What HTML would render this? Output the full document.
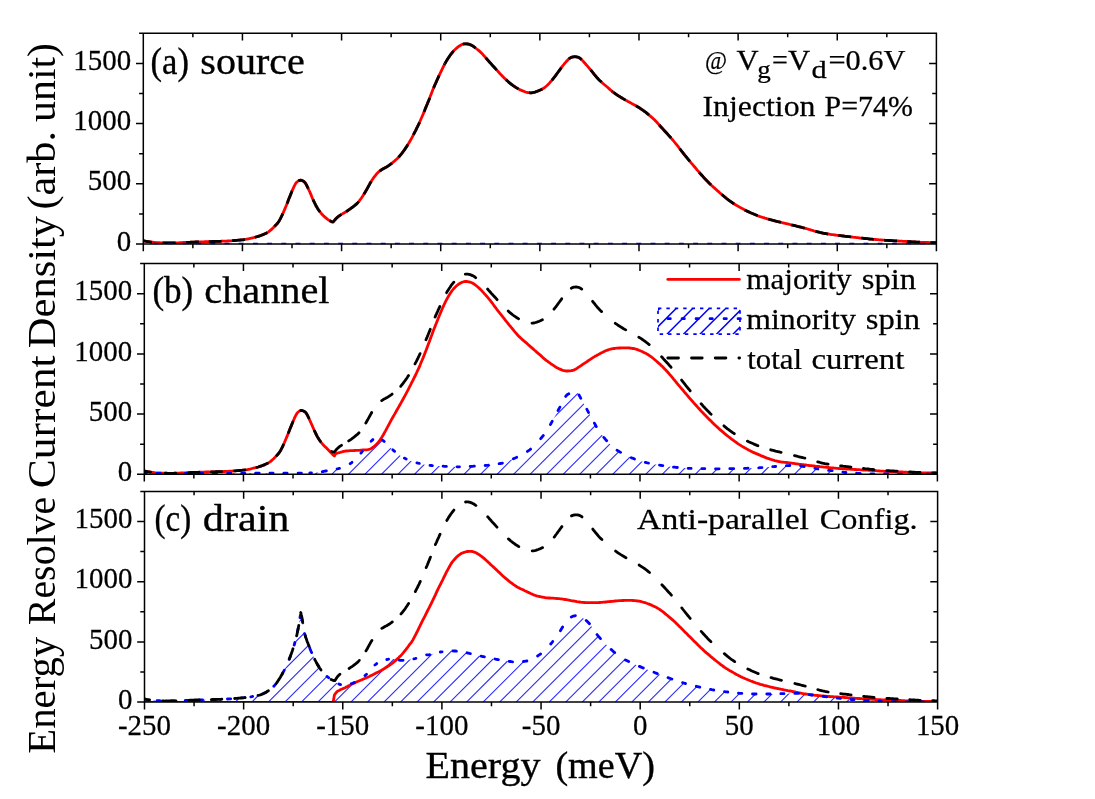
<!DOCTYPE html>
<html><head><meta charset="utf-8"><title>chart</title>
<style>html,body{margin:0;padding:0;background:#fff;}body{width:1095px;height:799px;overflow:hidden;font-family:"Liberation Serif",serif;}svg{display:block;will-change:transform;}</style></head>
<body>
<svg width="1095" height="799" viewBox="0 0 1095 799" font-family="'Liberation Serif', serif" fill="#000">
<rect width="1095" height="799" fill="#fff"/>
<clipPath id="pca"><rect x="143.30" y="33.30" width="793.10" height="210.70"/></clipPath>
<clipPath id="pcb"><rect x="144.30" y="263.60" width="793.00" height="210.70"/></clipPath>
<clipPath id="pcc"><rect x="144.50" y="491.40" width="793.10" height="210.70"/></clipPath>
<g clip-path="url(#pca)">
<path d="M142.8,240.7 L143.9,240.9 L145.1,241.1 L146.3,241.3 L147.5,241.6 L148.7,241.7 L149.9,241.9 L151.1,242.1 L152.3,242.2 L153.5,242.4 L154.7,242.5 L155.9,242.6 L157.1,242.6 L158.3,242.7 L159.5,242.7 L160.7,242.8 L161.9,242.8 L163.1,242.9 L164.3,242.9 L165.5,242.9 L166.7,243.0 L167.8,243.0 L169.0,243.0 L170.2,243.0 L171.4,243.0 L172.6,243.0 L173.8,242.9 L175.0,242.9 L176.2,242.9 L177.4,242.8 L178.6,242.8 L179.8,242.7 L181.0,242.7 L182.2,242.6 L183.4,242.5 L184.6,242.5 L185.8,242.4 L187.0,242.4 L188.2,242.3 L189.4,242.3 L190.6,242.2 L191.8,242.2 L192.9,242.1 L194.1,242.1 L195.3,242.0 L196.5,242.0 L197.7,242.0 L198.9,241.9 L200.1,241.9 L201.3,241.8 L202.5,241.8 L203.7,241.8 L204.9,241.7 L206.1,241.7 L207.3,241.7 L208.5,241.6 L209.7,241.6 L210.9,241.6 L212.1,241.5 L213.3,241.5 L214.5,241.5 L215.7,241.4 L216.8,241.4 L218.0,241.4 L219.2,241.3 L220.4,241.3 L221.6,241.2 L222.8,241.2 L224.0,241.2 L225.2,241.1 L226.4,241.1 L227.6,241.0 L228.8,240.9 L230.0,240.9 L231.2,240.8 L232.4,240.7 L233.6,240.6 L234.8,240.5 L236.0,240.4 L237.2,240.3 L238.4,240.2 L239.6,240.1 L240.7,240.0 L241.9,239.9 L243.1,239.8 L244.3,239.6 L245.5,239.4 L246.7,239.2 L247.9,239.0 L249.1,238.7 L250.3,238.4 L251.5,238.1 L252.7,237.8 L253.9,237.5 L255.1,237.2 L256.3,236.9 L257.5,236.6 L258.7,236.2 L259.9,235.8 L261.1,235.4 L262.3,234.9 L263.5,234.4 L264.6,233.9 L265.8,233.4 L267.0,232.8 L268.2,232.1 L269.4,231.2 L270.6,230.2 L271.8,229.1 L273.0,228.0 L274.2,226.8 L275.4,225.6 L276.6,224.3 L277.8,222.9 L279.0,221.2 L280.2,219.1 L281.4,216.7 L282.6,214.2 L283.8,211.4 L285.0,208.6 L286.2,205.7 L287.4,202.8 L288.5,199.8 L289.7,196.7 L290.9,193.7 L292.1,190.9 L293.3,188.1 L294.5,185.6 L295.7,183.4 L296.9,182.0 L298.1,181.1 L299.3,180.4 L300.5,180.1 L301.7,180.4 L302.9,181.0 L304.1,181.6 L305.3,182.9 L306.5,185.0 L307.7,187.4 L308.9,190.0 L310.1,192.6 L311.3,195.4 L312.4,198.2 L313.6,200.9 L314.8,203.4 L316.0,205.8 L317.2,207.8 L318.4,209.7 L319.6,211.4 L320.8,212.9 L322.0,214.2 L323.2,215.5 L324.4,216.6 L325.6,217.7 L326.8,218.7 L328.0,219.6 L329.2,220.4 L330.4,221.1 L331.6,221.7 L332.8,222.2 L334.0,221.0 L335.2,219.5 L336.4,218.2 L337.6,217.1 L338.8,216.2 L339.9,215.4 L341.1,214.6 L342.3,213.9 L343.5,213.2 L344.7,212.5 L345.9,211.8 L347.1,211.0 L348.3,210.2 L349.5,209.4 L350.7,208.5 L351.8,207.7 L353.0,206.8 L354.2,205.9 L355.4,204.9 L356.6,203.9 L357.8,202.7 L359.0,201.3 L360.2,199.7 L361.4,198.0 L362.6,196.2 L363.7,194.4 L364.9,192.5 L366.1,190.5 L367.3,188.4 L368.5,186.2 L369.7,184.0 L370.9,181.9 L372.1,180.0 L373.3,178.2 L374.5,176.6 L375.7,175.1 L376.8,173.7 L378.0,172.5 L379.2,171.4 L380.4,170.5 L381.6,169.7 L382.8,169.0 L384.0,168.3 L385.2,167.7 L386.4,167.0 L387.6,166.3 L388.7,165.6 L389.9,164.7 L391.1,163.8 L392.3,162.9 L393.5,161.9 L394.7,160.9 L395.9,159.8 L397.1,158.7 L398.3,157.5 L399.5,156.2 L400.6,154.9 L401.8,153.4 L403.0,151.8 L404.2,150.2 L405.4,148.4 L406.6,146.6 L407.8,144.7 L409.0,142.8 L410.2,140.7 L411.4,138.6 L412.6,136.4 L413.7,134.2 L414.9,131.9 L416.1,129.5 L417.3,127.1 L418.5,124.6 L419.7,122.0 L420.9,119.3 L422.1,116.5 L423.3,113.7 L424.5,110.8 L425.6,107.9 L426.8,105.0 L428.0,102.1 L429.2,99.2 L430.4,96.1 L431.6,92.9 L432.8,89.8 L434.0,87.0 L435.2,84.3 L436.4,81.6 L437.5,79.0 L438.7,76.4 L439.9,73.8 L441.1,71.3 L442.3,68.8 L443.5,66.4 L444.7,64.0 L445.9,61.9 L447.1,59.9 L448.3,58.0 L449.5,56.3 L450.6,54.6 L451.8,53.1 L453.0,51.6 L454.2,50.3 L455.4,49.2 L456.6,48.1 L457.8,47.1 L459.0,46.2 L460.2,45.5 L461.4,44.8 L462.5,44.3 L463.7,44.0 L464.9,43.8 L466.1,43.8 L467.3,43.9 L468.5,44.2 L469.7,44.5 L470.9,45.0 L472.1,45.6 L473.3,46.3 L474.4,47.1 L475.6,48.0 L476.8,49.0 L478.0,49.9 L479.2,50.9 L480.4,52.0 L481.6,53.1 L482.8,54.4 L484.0,55.8 L485.2,57.1 L486.4,58.5 L487.5,59.8 L488.7,61.2 L489.9,62.5 L491.1,63.9 L492.3,65.2 L493.5,66.5 L494.7,67.8 L495.9,69.1 L497.1,70.4 L498.3,71.7 L499.4,73.0 L500.6,74.3 L501.8,75.5 L503.0,76.7 L504.2,77.9 L505.4,79.1 L506.6,80.2 L507.8,81.3 L509.0,82.4 L510.2,83.3 L511.4,84.3 L512.5,85.2 L513.7,86.0 L514.9,86.8 L516.1,87.6 L517.3,88.3 L518.5,89.0 L519.7,89.6 L520.9,90.1 L522.1,90.7 L523.3,91.1 L524.4,91.6 L525.6,92.0 L526.8,92.3 L528.0,92.6 L529.2,92.7 L530.4,92.8 L531.6,92.8 L532.8,92.6 L534.0,92.4 L535.2,92.0 L536.3,91.6 L537.5,91.2 L538.7,90.7 L539.9,90.2 L541.1,89.7 L542.3,89.0 L543.5,88.3 L544.7,87.5 L545.9,86.5 L547.1,85.5 L548.3,84.3 L549.4,83.1 L550.6,81.7 L551.8,80.4 L553.0,78.9 L554.2,77.4 L555.4,75.8 L556.6,74.2 L557.8,72.5 L559.0,70.9 L560.2,69.3 L561.3,67.7 L562.5,66.1 L563.7,64.7 L564.9,63.2 L566.1,61.8 L567.3,60.5 L568.5,59.2 L569.7,58.2 L570.9,57.5 L572.1,57.1 L573.2,56.8 L574.4,56.7 L575.6,56.7 L576.8,56.9 L578.0,57.2 L579.2,57.7 L580.4,58.5 L581.6,59.6 L582.8,60.9 L584.0,62.2 L585.2,63.5 L586.3,64.8 L587.5,66.2 L588.7,67.6 L589.9,69.0 L591.1,70.4 L592.3,71.9 L593.5,73.4 L594.7,74.9 L595.9,76.3 L597.1,77.7 L598.2,79.0 L599.4,80.2 L600.6,81.3 L601.8,82.4 L603.0,83.5 L604.2,84.5 L605.4,85.5 L606.6,86.5 L607.8,87.5 L609.0,88.6 L610.1,89.6 L611.3,90.6 L612.5,91.6 L613.7,92.5 L614.9,93.4 L616.1,94.3 L617.3,95.1 L618.5,95.9 L619.7,96.6 L620.9,97.3 L622.1,98.0 L623.2,98.7 L624.4,99.4 L625.6,100.1 L626.8,100.8 L628.0,101.5 L629.2,102.1 L630.4,102.7 L631.6,103.4 L632.8,104.0 L634.0,104.7 L635.1,105.3 L636.3,106.0 L637.5,106.7 L638.7,107.4 L639.9,108.2 L641.1,109.0 L642.3,109.8 L643.5,110.7 L644.7,111.5 L645.9,112.4 L647.0,113.4 L648.2,114.3 L649.4,115.3 L650.6,116.3 L651.8,117.4 L653.0,118.4 L654.2,119.6 L655.4,120.8 L656.6,122.0 L657.8,123.3 L659.0,124.7 L660.1,126.0 L661.3,127.3 L662.5,128.6 L663.7,129.9 L664.9,131.2 L666.1,132.5 L667.3,133.8 L668.5,135.2 L669.7,136.5 L670.9,137.8 L672.0,139.1 L673.2,140.5 L674.4,142.0 L675.6,143.5 L676.8,144.9 L678.0,146.4 L679.2,148.0 L680.4,149.5 L681.6,151.1 L682.8,152.6 L683.9,154.1 L685.1,155.6 L686.3,157.0 L687.5,158.5 L688.7,159.9 L689.9,161.3 L691.1,162.8 L692.3,164.2 L693.5,165.6 L694.7,167.0 L695.9,168.4 L697.0,169.8 L698.2,171.2 L699.4,172.6 L700.6,174.0 L701.8,175.3 L703.0,176.6 L704.2,177.9 L705.4,179.2 L706.6,180.5 L707.8,181.7 L708.9,182.9 L710.1,184.0 L711.3,185.2 L712.5,186.3 L713.7,187.4 L714.9,188.4 L716.1,189.5 L717.3,190.6 L718.5,191.6 L719.7,192.7 L720.8,193.7 L722.0,194.7 L723.2,195.7 L724.4,196.7 L725.6,197.7 L726.8,198.7 L728.0,199.6 L729.2,200.5 L730.4,201.4 L731.6,202.2 L732.8,203.0 L733.9,203.8 L735.1,204.5 L736.3,205.2 L737.5,205.9 L738.7,206.6 L739.9,207.3 L741.1,207.9 L742.3,208.6 L743.5,209.2 L744.7,209.9 L745.8,210.5 L747.0,211.1 L748.2,211.6 L749.4,212.2 L750.6,212.8 L751.8,213.3 L753.0,213.8 L754.2,214.3 L755.4,214.8 L756.6,215.3 L757.7,215.8 L758.9,216.2 L760.1,216.6 L761.3,217.0 L762.5,217.4 L763.7,217.7 L764.9,218.1 L766.1,218.4 L767.3,218.8 L768.5,219.1 L769.7,219.5 L770.8,219.8 L772.0,220.1 L773.2,220.4 L774.4,220.8 L775.6,221.0 L776.8,221.3 L778.0,221.6 L779.2,221.9 L780.4,222.2 L781.6,222.5 L782.7,222.8 L783.9,223.0 L785.1,223.3 L786.3,223.6 L787.5,223.9 L788.7,224.2 L789.9,224.5 L791.1,224.8 L792.3,225.1 L793.5,225.3 L794.7,225.6 L795.8,225.9 L797.0,226.2 L798.2,226.5 L799.4,226.8 L800.6,227.1 L801.8,227.4 L803.0,227.7 L804.2,228.0 L805.4,228.3 L806.6,228.7 L807.7,229.0 L808.9,229.4 L810.1,229.7 L811.3,230.1 L812.5,230.4 L813.7,230.8 L814.9,231.1 L816.1,231.5 L817.3,231.8 L818.5,232.1 L819.6,232.4 L820.8,232.6 L822.0,232.9 L823.2,233.2 L824.4,233.4 L825.6,233.6 L826.8,233.8 L828.0,234.0 L829.2,234.2 L830.4,234.4 L831.6,234.6 L832.7,234.7 L833.9,234.9 L835.1,235.0 L836.3,235.2 L837.5,235.3 L838.7,235.5 L839.9,235.6 L841.1,235.8 L842.3,235.9 L843.5,236.0 L844.6,236.2 L845.8,236.3 L847.0,236.5 L848.2,236.6 L849.4,236.7 L850.6,236.9 L851.8,237.0 L853.0,237.2 L854.2,237.3 L855.4,237.4 L856.5,237.6 L857.7,237.7 L858.9,237.8 L860.1,238.0 L861.3,238.1 L862.5,238.2 L863.7,238.4 L864.9,238.5 L866.1,238.6 L867.3,238.7 L868.5,238.8 L869.6,239.0 L870.8,239.1 L872.0,239.2 L873.2,239.3 L874.4,239.4 L875.6,239.5 L876.8,239.6 L878.0,239.7 L879.2,239.8 L880.4,239.9 L881.5,240.0 L882.7,240.1 L883.9,240.2 L885.1,240.3 L886.3,240.3 L887.5,240.4 L888.7,240.5 L889.9,240.5 L891.1,240.6 L892.3,240.7 L893.4,240.7 L894.6,240.8 L895.8,240.9 L897.0,240.9 L898.2,241.0 L899.4,241.1 L900.6,241.2 L901.8,241.2 L903.0,241.3 L904.2,241.4 L905.4,241.4 L906.5,241.5 L907.7,241.6 L908.9,241.6 L910.1,241.7 L911.3,241.8 L912.5,241.9 L913.7,241.9 L914.9,242.0 L916.1,242.1 L917.3,242.1 L918.4,242.2 L919.6,242.2 L920.8,242.3 L922.0,242.3 L923.2,242.4 L924.4,242.4 L925.6,242.5 L926.8,242.5 L928.0,242.5 L929.2,242.6 L930.3,242.6 L931.5,242.6 L932.7,242.6 L933.9,242.7 L935.1,242.7 L936.3,242.7" fill="none" stroke="#ff0000" stroke-width="2.80" stroke-linejoin="round" />
<path d="M142.8,240.7 L143.9,240.9 L145.1,241.1 L146.3,241.3 L147.5,241.6 L148.7,241.7 L149.9,241.9 L151.1,242.1 L152.0,242.2 M162.5,242.9 L163.7,242.9 L164.9,242.9 L166.1,242.9 L167.3,243.0 L168.4,243.0 L169.6,243.0 L170.8,243.0 L172.0,243.0 L173.2,242.9 L174.4,242.9 L175.6,242.9 M186.1,242.4 L187.3,242.4 L188.5,242.3 L189.7,242.3 L190.9,242.2 L192.0,242.2 L193.2,242.1 L194.4,242.1 L195.6,242.0 L196.8,242.0 L198.0,241.9 L198.9,241.9 M208.8,241.6 L210.0,241.6 L211.2,241.6 L212.4,241.5 L213.6,241.5 L214.8,241.5 L215.9,241.4 L217.1,241.4 L218.3,241.3 L219.5,241.3 L220.7,241.3 L221.6,241.2 M232.1,240.7 L233.3,240.6 L234.5,240.5 L235.7,240.4 L236.9,240.3 L238.1,240.2 L239.3,240.1 L240.4,240.0 L241.6,239.9 L242.8,239.8 L244.0,239.6 L244.9,239.5 M254.8,237.3 L256.0,237.0 L257.2,236.7 L258.4,236.3 L259.6,235.9 L260.8,235.5 L262.0,235.0 L263.2,234.6 L264.3,234.0 L265.5,233.5 L266.7,232.9 L267.3,232.6 M274.5,226.5 L275.6,225.3 L276.6,224.3 L277.6,223.2 L278.4,222.0 L279.1,220.9 L279.7,219.9 L280.3,218.9 L280.8,217.8 L281.4,216.7 L281.9,215.7 L282.3,214.7 L282.8,213.6 M287.0,203.6 L287.5,202.5 L287.9,201.5 L288.2,200.5 L288.6,199.5 L289.0,198.5 L289.4,197.5 L289.9,196.5 L290.3,195.4 L290.7,194.3 L291.2,193.2 L291.6,192.2 L292.0,191.1 L292.1,190.9 M298.4,180.9 L299.6,180.3 L300.8,180.2 L302.0,180.5 L303.2,181.1 L304.3,181.9 L305.3,182.9 L305.9,184.0 L306.5,185.0 L307.0,186.1 L307.5,187.2 L308.0,188.2 L308.3,188.7 M313.0,199.5 L313.5,200.6 L314.0,201.6 L314.5,202.7 L315.0,203.7 L315.5,204.7 L316.0,205.8 L316.6,206.8 L317.2,207.8 L317.9,208.9 L318.6,210.0 L319.4,211.1 L320.1,212.0 M329.5,220.5 L330.7,221.2 L331.9,221.8 L333.1,221.9 L334.2,220.7 L335.2,219.5 L336.1,218.5 L337.3,217.4 L338.5,216.4 L339.6,215.6 L340.8,214.8 L341.4,214.4 M346.2,211.6 L347.4,210.8 L348.6,210.0 L349.8,209.2 L351.0,208.3 L352.1,207.5 L353.3,206.6 L354.5,205.7 L355.7,204.7 L356.9,203.6 L358.0,202.4 L358.7,201.6 M363.9,194.1 L364.6,193.1 L365.3,192.0 L366.0,190.8 L366.6,189.7 L367.2,188.7 L367.8,187.6 L368.4,186.5 L369.0,185.4 L369.6,184.3 L370.1,183.2 L370.7,182.2 L371.2,181.4 M379.5,171.2 L380.7,170.3 L381.9,169.5 L383.1,168.8 L384.3,168.2 L385.5,167.5 L386.7,166.9 L387.9,166.1 L389.0,165.3 L390.2,164.5 L391.4,163.6 L392.0,163.1 M398.5,157.3 L399.5,156.2 L400.4,155.1 L401.4,154.0 L402.2,152.9 L403.0,151.8 L403.8,150.7 L404.6,149.6 L405.4,148.4 L406.1,147.4 L406.8,146.4 L407.5,145.3 L408.0,144.5 M413.3,134.9 L413.9,133.9 L414.4,132.9 L414.9,131.9 L415.5,130.8 L416.0,129.8 L416.5,128.7 L417.0,127.7 L417.6,126.6 L418.0,125.6 L418.5,124.6 L419.0,123.6 L419.5,122.5 L419.6,122.3 M424.0,111.8 L424.5,110.8 L424.9,109.8 L425.3,108.7 L425.8,107.7 L426.2,106.6 L426.6,105.6 L427.1,104.5 L427.5,103.5 L427.9,102.4 L428.4,101.3 L428.8,100.3 L429.2,99.2 L429.6,98.2 L429.7,97.9 M433.5,88.0 L434.0,87.0 L434.5,85.9 L434.9,84.8 L435.4,83.7 L435.9,82.7 L436.4,81.6 L436.8,80.6 L437.3,79.5 L437.8,78.5 L438.3,77.4 L438.7,76.4 L439.2,75.4 M444.3,64.8 L444.7,64.0 M445.0,63.5 L445.6,62.4 L446.2,61.3 L446.9,60.2 L447.6,59.1 L448.3,58.0 L449.1,56.9 L449.8,55.7 L450.6,54.6 L451.4,53.6 L452.3,52.5 L453.3,51.4 L453.7,50.9 M462.8,44.2 L464.0,43.9 L465.2,43.8 L466.4,43.8 L467.6,44.0 L468.8,44.2 L470.0,44.6 L471.2,45.1 L472.4,45.8 L473.6,46.5 L474.7,47.4 L475.6,48.0 M485.6,57.7 L486.6,58.7 L487.5,59.8 L488.5,60.9 L489.4,62.0 L490.4,63.1 L491.4,64.1 L492.3,65.2 L493.3,66.2 L494.2,67.3 L495.2,68.3 L496.1,69.4 L496.8,70.2 M506.0,79.6 L507.2,80.7 L508.4,81.8 L509.6,82.8 L510.8,83.8 L511.9,84.7 L513.1,85.6 L514.3,86.4 L515.5,87.2 L516.7,87.9 L517.9,88.6 L518.5,89.0 M528.9,92.7 L530.1,92.8 L531.3,92.8 L532.5,92.6 L533.7,92.4 L534.9,92.1 L536.0,91.7 L537.2,91.3 L538.4,90.8 L539.6,90.3 L540.8,89.8 L542.0,89.2 L542.3,89.0 M551.8,80.4 L552.8,79.2 L553.6,78.1 L554.4,77.1 L555.2,76.1 L556.0,75.0 L556.8,73.9 L557.6,72.8 L558.4,71.7 L559.2,70.6 L560.0,69.5 L560.7,68.5 L561.3,67.7 M568.8,59.0 L570.0,58.1 L571.2,57.4 L572.4,57.0 L573.5,56.8 L574.7,56.7 L575.9,56.8 L577.1,57.0 L578.3,57.3 L579.5,57.9 L580.7,58.8 L581.6,59.6 M590.6,69.8 L591.6,71.0 L592.5,72.2 L593.5,73.4 L594.4,74.6 L595.4,75.7 L596.3,76.9 L597.3,77.9 L598.2,79.0 L599.4,80.2 L600.6,81.3 L601.5,82.1 M611.9,91.1 L612.5,91.6 M613.1,92.1 L614.3,93.0 L615.5,93.8 L616.7,94.7 L617.9,95.5 L619.1,96.2 L620.3,97.0 L621.5,97.7 L622.6,98.4 L623.8,99.1 L625.0,99.8 L625.6,100.1 M636.0,105.8 L637.2,106.5 L638.4,107.2 L639.6,108.0 L640.8,108.8 L642.0,109.6 L643.2,110.4 L644.4,111.3 L645.6,112.2 L646.8,113.1 L647.9,114.1 L649.1,115.0 M659.2,124.9 L660.1,126.0 L661.1,127.0 L662.0,128.1 L663.0,129.1 L664.0,130.2 L664.9,131.2 L665.9,132.3 L666.8,133.3 L667.8,134.4 L668.7,135.4 L669.7,136.5 L670.6,137.5 L671.1,138.1 M679.6,148.5 L680.4,149.5 L681.2,150.6 L682.0,151.6 L682.8,152.6 L683.6,153.6 L684.4,154.7 L685.4,155.9 L686.3,157.0 L687.3,158.2 L688.2,159.3 L689.2,160.5 L689.9,161.3 M698.7,171.8 M699.2,172.3 L700.1,173.4 L701.1,174.5 L702.0,175.6 L703.0,176.6 L703.9,177.7 L704.9,178.7 L705.9,179.7 L706.9,180.8 L708.1,182.0 L709.2,183.2 L710.4,184.3 L711.0,184.9 M721.7,194.5 L722.9,195.5 L724.1,196.5 L725.3,197.5 L726.5,198.5 L727.7,199.4 L728.9,200.3 L730.1,201.2 L731.3,202.0 L732.5,202.8 L733.6,203.6 L734.2,203.9 M744.7,209.9 L745.8,210.5 L747.0,211.1 L748.2,211.6 L749.4,212.2 L750.6,212.8 L751.8,213.3 L753.0,213.8 L754.2,214.3 L755.4,214.8 L756.6,215.3 L757.7,215.8 M768.2,219.0 L769.4,219.4 L770.5,219.7 L771.7,220.0 L772.9,220.4 L774.1,220.7 L775.3,221.0 L776.5,221.3 L777.7,221.6 L778.9,221.8 L780.1,222.1 L781.0,222.3 M791.4,224.8 L792.6,225.1 L793.8,225.4 L794.9,225.7 L796.1,226.0 L797.3,226.3 L798.5,226.6 L799.7,226.9 L800.9,227.2 L802.1,227.5 L803.3,227.8 L804.5,228.1 L804.8,228.2 M815.5,231.3 L816.7,231.6 L817.9,231.9 L819.1,232.2 L820.2,232.5 L821.4,232.8 L822.6,233.0 L823.8,233.3 L825.0,233.5 L826.2,233.7 L827.4,233.9 L828.0,234.0 M838.4,235.4 L839.6,235.6 L840.8,235.7 L842.0,235.9 L843.2,236.0 L844.3,236.1 L845.5,236.3 L846.7,236.4 L847.9,236.6 L849.1,236.7 L850.3,236.8 L850.9,236.9 M861.3,238.1 L862.5,238.2 L863.7,238.4 L864.9,238.5 L866.1,238.6 L867.3,238.7 L868.5,238.8 L869.6,239.0 L870.8,239.1 L872.0,239.2 L873.2,239.3 L873.8,239.3 M884.2,240.2 L885.4,240.3 L886.6,240.3 L887.8,240.4 L889.0,240.5 L890.2,240.5 L891.4,240.6 L892.6,240.7 L893.7,240.8 L894.9,240.8 L896.1,240.9 L897.0,240.9 M907.1,241.5 L908.3,241.6 L909.5,241.7 L910.7,241.7 L911.9,241.8 L913.1,241.9 L914.3,242.0 L915.5,242.0 L916.7,242.1 L917.8,242.1 L919.0,242.2 L919.9,242.2 M930.3,242.6 L931.5,242.6 L932.7,242.6 L933.9,242.7 L935.1,242.7 L936.3,242.7" fill="none" stroke="#000" stroke-width="2.80" stroke-linejoin="round" stroke-linecap="butt"/>
</g>
<path d="M143.30,33.30 H936.40 V244.00 H143.30 Z M143.30,244.00 v7.30 M143.30,33.30 v7.30 M192.87,244.00 v4.20 M192.87,33.30 v3.90 M242.44,244.00 v7.30 M242.44,33.30 v7.30 M292.01,244.00 v4.20 M292.01,33.30 v3.90 M341.58,244.00 v7.30 M341.58,33.30 v7.30 M391.14,244.00 v4.20 M391.14,33.30 v3.90 M440.71,244.00 v7.30 M440.71,33.30 v7.30 M490.28,244.00 v4.20 M490.28,33.30 v3.90 M539.85,244.00 v7.30 M539.85,33.30 v7.30 M589.42,244.00 v4.20 M589.42,33.30 v3.90 M638.99,244.00 v7.30 M638.99,33.30 v7.30 M688.56,244.00 v4.20 M688.56,33.30 v3.90 M738.12,244.00 v7.30 M738.12,33.30 v7.30 M787.69,244.00 v4.20 M787.69,33.30 v3.90 M837.26,244.00 v7.30 M837.26,33.30 v7.30 M886.83,244.00 v4.20 M886.83,33.30 v3.90 M936.40,244.00 v7.30 M936.40,33.30 v7.30 M143.30,244.00 h-7.30 M936.40,244.00 h-7.30 M143.30,213.90 h-4.20 M936.40,213.90 h-4.20 M143.30,183.80 h-7.30 M936.40,183.80 h-7.30 M143.30,153.70 h-4.20 M936.40,153.70 h-4.20 M143.30,123.60 h-7.30 M936.40,123.60 h-7.30 M143.30,93.50 h-4.20 M936.40,93.50 h-4.20 M143.30,63.40 h-7.30 M936.40,63.40 h-7.30 M143.30,33.30 h-4.20 M936.40,33.30 h-4.20" fill="none" stroke="#000" stroke-width="1.50" stroke-linecap="butt"/>
<text transform="translate(116.81,250.60) scale(0.9500,1)" font-size="30.5" stroke="#000" stroke-width="0.25">0</text>
<text transform="translate(87.84,190.40) scale(0.9500,1)" font-size="30.5" stroke="#000" stroke-width="0.25">500</text>
<text transform="translate(73.35,130.20) scale(0.9500,1)" font-size="30.5" stroke="#000" stroke-width="0.25">1000</text>
<text transform="translate(73.35,70.00) scale(0.9500,1)" font-size="30.5" stroke="#000" stroke-width="0.25">1500</text>
<path d="M144.3,243.5 H935.4" stroke="#000090" stroke-width="1.3" stroke-dasharray="4.9 9.3" stroke-dashoffset="5.0" fill="none"/>
<g clip-path="url(#pcb)">
<clipPath id="cb"><path d="M142.8,474.3 L142.8,473.4 L143.9,473.4 L145.1,473.4 L146.3,473.4 L147.5,473.4 L148.7,473.4 L149.9,473.4 L151.1,473.4 L152.3,473.4 L153.5,473.4 L154.7,473.4 L155.9,473.4 L157.0,473.4 L158.2,473.4 L159.4,473.4 L160.6,473.4 L161.8,473.4 L163.0,473.4 L164.2,473.4 L165.4,473.4 L166.6,473.4 L167.8,473.4 L169.0,473.4 L170.1,473.4 L171.3,473.4 L172.5,473.4 L173.7,473.4 L174.9,473.4 L176.1,473.4 L177.3,473.4 L178.5,473.4 L179.7,473.4 L180.9,473.4 L182.0,473.4 L183.2,473.4 L184.4,473.4 L185.6,473.4 L186.8,473.4 L188.0,473.4 L189.2,473.4 L190.4,473.4 L191.6,473.4 L192.8,473.4 L194.0,473.4 L195.1,473.4 L196.3,473.4 L197.5,473.4 L198.7,473.4 L199.9,473.4 L201.1,473.4 L202.3,473.4 L203.5,473.4 L204.7,473.4 L205.9,473.4 L207.1,473.4 L208.2,473.4 L209.4,473.4 L210.6,473.4 L211.8,473.4 L213.0,473.4 L214.2,473.4 L215.4,473.4 L216.6,473.4 L217.8,473.4 L219.0,473.4 L220.2,473.4 L221.3,473.4 L222.5,473.4 L223.7,473.4 L224.9,473.4 L226.1,473.3 L227.3,473.3 L228.5,473.3 L229.7,473.3 L230.9,473.3 L232.1,473.3 L233.3,473.3 L234.4,473.3 L235.6,473.3 L236.8,473.3 L238.0,473.3 L239.2,473.3 L240.4,473.3 L241.6,473.3 L242.8,473.3 L244.0,473.3 L245.2,473.3 L246.4,473.3 L247.5,473.3 L248.7,473.3 L249.9,473.3 L251.1,473.2 L252.3,473.2 L253.5,473.2 L254.7,473.2 L255.9,473.2 L257.1,473.2 L258.3,473.2 L259.4,473.2 L260.6,473.2 L261.8,473.2 L263.0,473.2 L264.2,473.2 L265.4,473.2 L266.6,473.2 L267.8,473.2 L269.0,473.2 L270.2,473.2 L271.4,473.2 L272.5,473.2 L273.7,473.2 L274.9,473.2 L276.1,473.1 L277.3,473.1 L278.5,473.1 L279.7,473.1 L280.9,473.1 L282.1,473.1 L283.3,473.1 L284.5,473.1 L285.6,473.1 L286.8,473.1 L288.0,473.1 L289.2,473.1 L290.4,473.1 L291.6,473.1 L292.8,473.1 L294.0,473.1 L295.2,473.1 L296.4,473.1 L297.6,473.1 L298.7,473.1 L299.9,473.1 L301.1,473.1 L302.3,473.1 L303.5,473.1 L304.7,473.0 L305.9,473.0 L307.1,473.0 L308.3,472.9 L309.5,472.9 L310.7,472.9 L311.8,472.8 L313.0,472.8 L314.2,472.7 L315.4,472.6 L316.6,472.6 L317.8,472.4 L319.0,472.3 L320.2,472.1 L321.4,471.9 L322.6,471.6 L323.8,471.4 L324.9,471.2 L326.1,471.0 L327.3,470.8 L328.5,470.5 L329.7,470.3 L330.9,470.1 L332.1,469.9 L333.3,469.6 L334.5,469.4 L335.7,469.2 L336.8,469.0 L338.0,468.7 L339.2,468.5 L340.4,468.2 L341.6,467.9 L342.8,467.5 L344.0,467.1 L345.2,466.7 L346.4,466.1 L347.6,465.5 L348.8,464.8 L349.9,464.0 L351.1,463.1 L352.3,462.0 L353.5,460.9 L354.7,459.7 L355.9,458.5 L357.1,457.2 L358.3,455.9 L359.5,454.6 L360.7,453.3 L361.9,452.0 L363.0,450.6 L364.2,449.2 L365.4,447.8 L366.6,446.4 L367.8,444.9 L369.0,443.5 L370.2,442.2 L371.4,440.9 L372.6,439.8 L373.8,439.0 L375.0,438.3 L376.1,438.0 L377.3,437.9 L378.5,438.0 L379.7,438.4 L380.9,439.0 L382.1,439.8 L383.3,440.7 L384.5,441.7 L385.7,442.9 L386.9,444.0 L388.1,445.3 L389.2,446.5 L390.4,447.7 L391.6,448.8 L392.8,449.8 L394.0,450.8 L395.2,451.7 L396.4,452.7 L397.6,453.6 L398.8,454.5 L400.0,455.4 L401.2,456.2 L402.3,456.9 L403.5,457.6 L404.7,458.3 L405.9,458.9 L407.1,459.4 L408.3,459.9 L409.5,460.4 L410.7,460.9 L411.9,461.3 L413.1,461.7 L414.3,462.1 L415.4,462.5 L416.6,462.8 L417.8,463.1 L419.0,463.4 L420.2,463.7 L421.4,463.9 L422.6,464.2 L423.8,464.5 L425.0,464.7 L426.2,464.9 L427.3,465.1 L428.5,465.3 L429.7,465.4 L430.9,465.5 L432.1,465.6 L433.3,465.7 L434.5,465.7 L435.7,465.8 L436.9,465.9 L438.1,466.0 L439.3,466.0 L440.4,466.1 L441.6,466.2 L442.8,466.2 L444.0,466.3 L445.2,466.3 L446.4,466.4 L447.6,466.4 L448.8,466.5 L450.0,466.5 L451.2,466.6 L452.4,466.6 L453.5,466.7 L454.7,466.7 L455.9,466.7 L457.1,466.8 L458.3,466.8 L459.5,466.8 L460.7,466.8 L461.9,466.8 L463.1,466.8 L464.3,466.7 L465.5,466.7 L466.6,466.6 L467.8,466.5 L469.0,466.5 L470.2,466.4 L471.4,466.4 L472.6,466.3 L473.8,466.2 L475.0,466.2 L476.2,466.1 L477.4,466.1 L478.6,466.0 L479.7,465.9 L480.9,465.8 L482.1,465.7 L483.3,465.7 L484.5,465.6 L485.7,465.5 L486.9,465.3 L488.1,465.2 L489.3,465.1 L490.5,465.0 L491.7,464.8 L492.8,464.7 L494.0,464.5 L495.2,464.4 L496.4,464.2 L497.6,464.0 L498.8,463.8 L500.0,463.6 L501.2,463.4 L502.4,463.1 L503.6,462.8 L504.7,462.5 L505.9,462.1 L507.1,461.6 L508.3,461.1 L509.5,460.6 L510.7,460.1 L511.9,459.5 L513.1,458.9 L514.3,458.4 L515.5,457.8 L516.7,457.3 L517.8,456.7 L519.0,456.1 L520.2,455.5 L521.4,454.8 L522.6,454.2 L523.8,453.5 L525.0,452.8 L526.2,452.1 L527.4,451.4 L528.6,450.6 L529.8,449.8 L530.9,448.9 L532.1,447.9 L533.3,446.8 L534.5,445.7 L535.7,444.4 L536.9,443.1 L538.1,441.8 L539.3,440.4 L540.5,439.0 L541.7,437.5 L542.9,436.0 L544.0,434.4 L545.2,432.8 L546.4,431.1 L547.6,429.3 L548.8,427.4 L550.0,425.4 L551.2,423.2 L552.4,421.1 L553.6,418.9 L554.8,416.7 L556.0,414.5 L557.1,412.3 L558.3,410.1 L559.5,407.9 L560.7,405.6 L561.9,403.3 L563.1,401.1 L564.3,398.8 L565.5,396.7 L566.7,395.1 L567.9,394.2 L569.1,393.6 L570.2,393.2 L571.4,392.7 L572.6,392.4 L573.8,392.2 L575.0,392.2 L576.2,392.4 L577.4,392.9 L578.6,394.2 L579.8,396.4 L581.0,398.5 L582.1,400.7 L583.3,402.9 L584.5,405.1 L585.7,407.3 L586.9,409.5 L588.1,411.6 L589.3,413.8 L590.5,416.0 L591.7,418.2 L592.9,420.4 L594.1,422.5 L595.2,424.7 L596.4,426.9 L597.6,428.9 L598.8,430.7 L600.0,432.4 L601.2,434.1 L602.4,435.6 L603.6,437.1 L604.8,438.5 L606.0,439.9 L607.2,441.3 L608.3,442.6 L609.5,443.8 L610.7,445.0 L611.9,446.2 L613.1,447.2 L614.3,448.2 L615.5,449.1 L616.7,450.0 L617.9,450.8 L619.1,451.5 L620.3,452.2 L621.4,452.9 L622.6,453.6 L623.8,454.2 L625.0,454.9 L626.2,455.5 L627.4,456.0 L628.6,456.6 L629.8,457.1 L631.0,457.6 L632.2,458.0 L633.4,458.5 L634.5,459.0 L635.7,459.4 L636.9,459.9 L638.1,460.3 L639.3,460.7 L640.5,461.1 L641.7,461.5 L642.9,461.8 L644.1,462.2 L645.3,462.4 L646.5,462.7 L647.6,463.0 L648.8,463.2 L650.0,463.5 L651.2,463.7 L652.4,463.9 L653.6,464.2 L654.8,464.4 L656.0,464.6 L657.2,464.8 L658.4,465.0 L659.5,465.2 L660.7,465.4 L661.9,465.5 L663.1,465.7 L664.3,465.9 L665.5,466.1 L666.7,466.2 L667.9,466.4 L669.1,466.5 L670.3,466.7 L671.5,466.9 L672.6,467.0 L673.8,467.1 L675.0,467.3 L676.2,467.4 L677.4,467.5 L678.6,467.6 L679.8,467.7 L681.0,467.8 L682.2,467.9 L683.4,468.0 L684.6,468.1 L685.7,468.1 L686.9,468.2 L688.1,468.3 L689.3,468.3 L690.5,468.4 L691.7,468.4 L692.9,468.4 L694.1,468.5 L695.3,468.5 L696.5,468.6 L697.7,468.6 L698.8,468.6 L700.0,468.7 L701.2,468.7 L702.4,468.7 L703.6,468.7 L704.8,468.7 L706.0,468.7 L707.2,468.7 L708.4,468.8 L709.6,468.8 L710.8,468.8 L711.9,468.8 L713.1,468.8 L714.3,468.8 L715.5,468.8 L716.7,468.8 L717.9,468.8 L719.1,468.8 L720.3,468.8 L721.5,468.8 L722.7,468.8 L723.9,468.8 L725.0,468.8 L726.2,468.8 L727.4,468.8 L728.6,468.7 L729.8,468.7 L731.0,468.7 L732.2,468.7 L733.4,468.7 L734.6,468.6 L735.8,468.6 L736.9,468.6 L738.1,468.6 L739.3,468.5 L740.5,468.5 L741.7,468.5 L742.9,468.4 L744.1,468.4 L745.3,468.3 L746.5,468.3 L747.7,468.3 L748.9,468.2 L750.0,468.2 L751.2,468.1 L752.4,468.1 L753.6,468.0 L754.8,468.0 L756.0,467.9 L757.2,467.9 L758.4,467.8 L759.6,467.7 L760.8,467.7 L762.0,467.6 L763.1,467.5 L764.3,467.4 L765.5,467.3 L766.7,467.2 L767.9,467.1 L769.1,467.0 L770.3,466.9 L771.5,466.8 L772.7,466.7 L773.9,466.6 L775.1,466.5 L776.2,466.4 L777.4,466.3 L778.6,466.2 L779.8,466.2 L781.0,466.1 L782.2,466.0 L783.4,465.9 L784.6,465.8 L785.8,465.8 L787.0,465.7 L788.2,465.6 L789.3,465.5 L790.5,465.5 L791.7,465.5 L792.9,465.5 L794.1,465.5 L795.3,465.6 L796.5,465.6 L797.7,465.7 L798.9,465.8 L800.1,465.9 L801.3,466.1 L802.4,466.2 L803.6,466.4 L804.8,466.6 L806.0,466.8 L807.2,467.0 L808.4,467.3 L809.6,467.5 L810.8,467.7 L812.0,467.9 L813.2,468.2 L814.4,468.4 L815.5,468.5 L816.7,468.7 L817.9,468.9 L819.1,469.0 L820.3,469.2 L821.5,469.3 L822.7,469.5 L823.9,469.6 L825.1,469.8 L826.3,470.0 L827.4,470.1 L828.6,470.3 L829.8,470.4 L831.0,470.6 L832.2,470.7 L833.4,470.9 L834.6,471.1 L835.8,471.2 L837.0,471.4 L838.2,471.5 L839.4,471.7 L840.5,471.8 L841.7,472.0 L842.9,472.1 L844.1,472.3 L845.3,472.4 L846.5,472.6 L847.7,472.7 L848.9,472.8 L850.1,472.9 L851.3,472.9 L852.5,473.0 L853.6,473.1 L854.8,473.1 L856.0,473.2 L857.2,473.2 L858.4,473.3 L859.6,473.4 L860.8,473.4 L862.0,473.5 L863.2,473.5 L864.4,473.6 L865.6,473.6 L866.7,473.7 L867.9,473.7 L869.1,473.7 L870.3,473.8 L871.5,473.8 L872.7,473.8 L873.9,473.8 L875.1,473.8 L876.3,473.9 L877.5,473.9 L878.7,473.9 L879.8,473.9 L881.0,473.9 L882.2,473.9 L883.4,474.0 L884.6,474.0 L885.8,474.0 L887.0,474.0 L888.2,474.0 L889.4,474.0 L890.6,474.0 L891.8,474.0 L892.9,474.1 L894.1,474.1 L895.3,474.1 L896.5,474.1 L897.7,474.1 L898.9,474.1 L900.1,474.1 L901.3,474.1 L902.5,474.1 L903.7,474.1 L904.8,474.1 L906.0,474.1 L907.2,474.1 L908.4,474.1 L909.6,474.1 L910.8,474.1 L912.0,474.2 L913.2,474.2 L914.4,474.2 L915.6,474.2 L916.8,474.2 L917.9,474.2 L919.1,474.2 L920.3,474.2 L921.5,474.2 L922.7,474.2 L923.9,474.2 L925.1,474.2 L926.3,474.2 L927.5,474.2 L928.7,474.2 L929.9,474.2 L931.0,474.2 L932.2,474.2 L933.4,474.2 L934.6,474.2 L935.8,474.2 L937.0,474.2 L937.0,474.3 Z"/></clipPath><path clip-path="url(#cb)" d="M-114.24,474.30 l230,-230 M-97.72,474.30 l230,-230 M-81.20,474.30 l230,-230 M-64.68,474.30 l230,-230 M-48.16,474.30 l230,-230 M-31.64,474.30 l230,-230 M-15.12,474.30 l230,-230 M1.40,474.30 l230,-230 M17.92,474.30 l230,-230 M34.44,474.30 l230,-230 M50.96,474.30 l230,-230 M67.48,474.30 l230,-230 M84.00,474.30 l230,-230 M100.52,474.30 l230,-230 M117.04,474.30 l230,-230 M133.56,474.30 l230,-230 M150.08,474.30 l230,-230 M166.60,474.30 l230,-230 M183.12,474.30 l230,-230 M199.64,474.30 l230,-230 M216.16,474.30 l230,-230 M232.68,474.30 l230,-230 M249.20,474.30 l230,-230 M265.72,474.30 l230,-230 M282.24,474.30 l230,-230 M298.76,474.30 l230,-230 M315.28,474.30 l230,-230 M331.80,474.30 l230,-230 M348.32,474.30 l230,-230 M364.84,474.30 l230,-230 M381.36,474.30 l230,-230 M397.88,474.30 l230,-230 M414.40,474.30 l230,-230 M430.92,474.30 l230,-230 M447.44,474.30 l230,-230 M463.96,474.30 l230,-230 M480.48,474.30 l230,-230 M497.00,474.30 l230,-230 M513.52,474.30 l230,-230 M530.04,474.30 l230,-230 M546.56,474.30 l230,-230 M563.08,474.30 l230,-230 M579.60,474.30 l230,-230 M596.12,474.30 l230,-230 M612.64,474.30 l230,-230 M629.16,474.30 l230,-230 M645.68,474.30 l230,-230 M662.20,474.30 l230,-230 M678.72,474.30 l230,-230 M695.24,474.30 l230,-230 M711.76,474.30 l230,-230 M728.28,474.30 l230,-230 M744.80,474.30 l230,-230 M761.32,474.30 l230,-230 M777.84,474.30 l230,-230 M794.36,474.30 l230,-230 M810.88,474.30 l230,-230 M827.40,474.30 l230,-230 M843.92,474.30 l230,-230 M860.44,474.30 l230,-230 M876.96,474.30 l230,-230 M893.48,474.30 l230,-230 M910.00,474.30 l230,-230 M926.52,474.30 l230,-230 M943.04,474.30 l230,-230" stroke="#2a2aff" stroke-width="1.10" fill="none"/>
<path d="M143.8,471.0 L144.9,471.2 L146.1,471.4 L147.3,471.6 L148.5,471.9 L149.7,472.0 L150.9,472.2 L152.1,472.4 L153.3,472.5 L154.5,472.7 L155.7,472.8 L156.9,472.9 L158.0,472.9 L159.2,473.0 L160.4,473.0 L161.6,473.1 L162.8,473.1 L164.0,473.2 L165.2,473.2 L166.4,473.2 L167.6,473.3 L168.8,473.3 L170.0,473.3 L171.2,473.3 L172.3,473.3 L173.5,473.3 L174.7,473.2 L175.9,473.2 L177.1,473.2 L178.3,473.1 L179.5,473.1 L180.7,473.0 L181.9,473.0 L183.1,472.9 L184.3,472.8 L185.4,472.8 L186.6,472.7 L187.8,472.7 L189.0,472.6 L190.2,472.6 L191.4,472.5 L192.6,472.5 L193.8,472.4 L195.0,472.4 L196.2,472.3 L197.4,472.3 L198.6,472.3 L199.7,472.2 L200.9,472.2 L202.1,472.1 L203.3,472.1 L204.5,472.1 L205.7,472.0 L206.9,472.0 L208.1,472.0 L209.3,471.9 L210.5,471.9 L211.7,471.9 L212.8,471.8 L214.0,471.8 L215.2,471.8 L216.4,471.7 L217.6,471.7 L218.8,471.7 L220.0,471.6 L221.2,471.6 L222.4,471.6 L223.6,471.5 L224.8,471.5 L226.0,471.4 L227.1,471.4 L228.3,471.3 L229.5,471.2 L230.7,471.2 L231.9,471.1 L233.1,471.0 L234.3,470.9 L235.5,470.8 L236.7,470.7 L237.9,470.6 L239.1,470.5 L240.2,470.4 L241.4,470.3 L242.6,470.2 L243.8,470.1 L245.0,470.0 L246.2,469.8 L247.4,469.6 L248.6,469.3 L249.8,469.1 L251.0,468.8 L252.2,468.5 L253.4,468.2 L254.5,467.9 L255.7,467.6 L256.9,467.3 L258.1,467.0 L259.3,466.6 L260.5,466.2 L261.7,465.8 L262.9,465.4 L264.1,464.9 L265.3,464.4 L266.5,463.8 L267.6,463.3 L268.8,462.6 L270.0,461.8 L271.2,460.8 L272.4,459.8 L273.6,458.7 L274.8,457.5 L276.0,456.3 L277.2,455.1 L278.4,453.7 L279.6,452.1 L280.8,450.2 L281.9,447.9 L283.1,445.4 L284.3,442.8 L285.5,440.0 L286.7,437.1 L287.9,434.2 L289.1,431.2 L290.3,428.2 L291.5,425.2 L292.7,422.3 L293.9,419.5 L295.0,416.9 L296.2,414.6 L297.4,412.8 L298.6,411.7 L299.8,410.9 L301.0,410.4 L302.2,410.5 L303.4,411.0 L304.6,411.6 L305.8,412.5 L307.0,414.4 L308.2,416.7 L309.3,419.2 L310.5,421.8 L311.7,424.5 L312.9,427.2 L314.1,430.0 L315.3,432.6 L316.5,435.0 L317.7,437.2 L318.9,439.2 L320.1,441.0 L321.3,442.6 L322.4,443.9 L323.6,445.2 L324.8,446.4 L326.0,447.6 L327.2,448.8 L328.4,450.0 L329.6,451.2 L330.8,452.5 L332.0,453.7 L333.2,454.9 L334.4,456.1 L335.5,453.9 L336.7,453.3 L337.9,453.0 L339.1,452.7 L340.3,452.4 L341.5,452.0 L342.7,451.7 L343.9,451.4 L345.1,451.2 L346.3,451.0 L347.5,450.9 L348.6,450.8 L349.8,450.7 L351.0,450.7 L352.2,450.6 L353.4,450.6 L354.6,450.5 L355.8,450.4 L357.0,450.4 L358.2,450.3 L359.4,450.3 L360.5,450.2 L361.7,450.1 L362.9,450.0 L364.1,449.9 L365.3,449.9 L366.5,449.8 L367.7,449.7 L368.9,449.4 L370.1,449.0 L371.3,448.4 L372.4,447.7 L373.6,446.8 L374.8,445.9 L376.0,444.8 L377.2,443.6 L378.4,442.2 L379.6,440.6 L380.8,438.8 L382.0,437.0 L383.2,435.0 L384.3,433.0 L385.5,430.9 L386.7,428.6 L387.9,426.4 L389.1,424.1 L390.3,421.9 L391.5,419.7 L392.7,417.5 L393.9,415.4 L395.1,413.4 L396.2,411.3 L397.4,409.2 L398.6,407.1 L399.8,405.0 L401.0,402.8 L402.2,400.7 L403.4,398.5 L404.6,396.3 L405.8,394.1 L407.0,391.9 L408.2,389.6 L409.3,387.4 L410.5,385.1 L411.7,382.7 L412.9,380.4 L414.1,377.9 L415.3,375.5 L416.5,373.0 L417.7,370.4 L418.9,367.8 L420.1,365.1 L421.2,362.3 L422.4,359.5 L423.6,356.6 L424.8,353.6 L426.0,350.5 L427.2,347.3 L428.4,344.1 L429.6,340.9 L430.8,337.6 L432.0,334.5 L433.1,331.3 L434.3,328.3 L435.5,325.2 L436.7,322.2 L437.9,319.3 L439.1,316.3 L440.3,313.4 L441.5,310.5 L442.7,307.8 L443.9,305.2 L445.0,302.7 L446.2,300.4 L447.4,298.1 L448.6,296.0 L449.8,294.0 L451.0,292.2 L452.2,290.5 L453.4,289.0 L454.6,287.7 L455.8,286.5 L456.9,285.5 L458.1,284.6 L459.3,283.7 L460.5,283.0 L461.7,282.4 L462.9,282.0 L464.1,281.7 L465.3,281.5 L466.5,281.5 L467.7,281.6 L468.9,281.8 L470.0,282.1 L471.2,282.5 L472.4,283.0 L473.6,283.7 L474.8,284.6 L476.0,285.5 L477.2,286.5 L478.4,287.5 L479.6,288.6 L480.8,289.7 L481.9,290.9 L483.1,292.2 L484.3,293.6 L485.5,294.9 L486.7,296.2 L487.9,297.6 L489.1,299.1 L490.3,300.5 L491.5,302.1 L492.7,303.7 L493.8,305.3 L495.0,306.9 L496.2,308.5 L497.4,310.1 L498.6,311.6 L499.8,313.2 L501.0,314.7 L502.2,316.2 L503.4,317.7 L504.6,319.2 L505.7,320.7 L506.9,322.1 L508.1,323.6 L509.3,325.1 L510.5,326.5 L511.7,328.0 L512.9,329.4 L514.1,330.9 L515.3,332.3 L516.5,333.7 L517.6,335.0 L518.8,336.3 L520.0,337.4 L521.2,338.5 L522.4,339.6 L523.6,340.6 L524.8,341.7 L526.0,342.7 L527.2,343.7 L528.4,344.8 L529.6,345.8 L530.7,346.9 L531.9,347.9 L533.1,348.9 L534.3,350.0 L535.5,351.0 L536.7,352.1 L537.9,353.1 L539.1,354.2 L540.3,355.2 L541.5,356.2 L542.6,357.3 L543.8,358.3 L545.0,359.3 L546.2,360.3 L547.4,361.2 L548.6,362.1 L549.8,362.9 L551.0,363.8 L552.2,364.6 L553.4,365.4 L554.5,366.2 L555.7,367.0 L556.9,367.7 L558.1,368.3 L559.3,368.9 L560.5,369.4 L561.7,369.9 L562.9,370.3 L564.1,370.6 L565.3,370.9 L566.4,371.0 L567.6,371.0 L568.8,370.9 L570.0,370.8 L571.2,370.7 L572.4,370.5 L573.6,370.1 L574.8,369.6 L576.0,369.0 L577.2,368.2 L578.3,367.4 L579.5,366.6 L580.7,365.8 L581.9,365.0 L583.1,364.2 L584.3,363.4 L585.5,362.6 L586.7,361.8 L587.9,361.0 L589.1,360.2 L590.3,359.4 L591.4,358.6 L592.6,357.8 L593.8,357.1 L595.0,356.3 L596.2,355.7 L597.4,355.0 L598.6,354.4 L599.8,353.7 L601.0,353.1 L602.2,352.5 L603.3,351.9 L604.5,351.3 L605.7,350.8 L606.9,350.3 L608.1,349.9 L609.3,349.5 L610.5,349.2 L611.7,348.9 L612.9,348.7 L614.1,348.5 L615.2,348.3 L616.4,348.2 L617.6,348.1 L618.8,348.0 L620.0,348.0 L621.2,347.9 L622.4,347.9 L623.6,347.8 L624.8,347.8 L626.0,347.8 L627.1,347.9 L628.3,347.9 L629.5,348.0 L630.7,348.1 L631.9,348.3 L633.1,348.5 L634.3,348.7 L635.5,349.0 L636.7,349.4 L637.9,349.8 L639.0,350.3 L640.2,350.8 L641.4,351.3 L642.6,351.8 L643.8,352.4 L645.0,353.0 L646.2,353.6 L647.4,354.3 L648.6,355.0 L649.8,355.8 L651.0,356.6 L652.1,357.5 L653.3,358.5 L654.5,359.5 L655.7,360.5 L656.9,361.5 L658.1,362.6 L659.3,363.7 L660.5,364.7 L661.7,365.9 L662.9,367.0 L664.0,368.2 L665.2,369.4 L666.4,370.7 L667.6,372.0 L668.8,373.4 L670.0,374.8 L671.2,376.2 L672.4,377.6 L673.6,379.1 L674.8,380.5 L675.9,381.9 L677.1,383.4 L678.3,384.8 L679.5,386.2 L680.7,387.6 L681.9,389.0 L683.1,390.4 L684.3,391.9 L685.5,393.3 L686.7,394.6 L687.8,396.0 L689.0,397.4 L690.2,398.8 L691.4,400.1 L692.6,401.5 L693.8,402.9 L695.0,404.2 L696.2,405.5 L697.4,406.9 L698.6,408.2 L699.8,409.5 L700.9,410.8 L702.1,412.1 L703.3,413.3 L704.5,414.6 L705.7,415.8 L706.9,417.0 L708.1,418.2 L709.3,419.4 L710.5,420.6 L711.7,421.8 L712.8,422.9 L714.0,424.1 L715.2,425.2 L716.4,426.3 L717.6,427.4 L718.8,428.5 L720.0,429.6 L721.2,430.6 L722.4,431.6 L723.6,432.6 L724.7,433.6 L725.9,434.6 L727.1,435.6 L728.3,436.5 L729.5,437.4 L730.7,438.4 L731.9,439.3 L733.1,440.2 L734.3,441.0 L735.5,441.9 L736.6,442.7 L737.8,443.6 L739.0,444.4 L740.2,445.1 L741.4,445.9 L742.6,446.6 L743.8,447.3 L745.0,448.0 L746.2,448.6 L747.4,449.3 L748.5,449.9 L749.7,450.6 L750.9,451.2 L752.1,451.8 L753.3,452.4 L754.5,452.9 L755.7,453.4 L756.9,453.9 L758.1,454.4 L759.3,454.9 L760.5,455.4 L761.6,455.9 L762.8,456.4 L764.0,456.9 L765.2,457.4 L766.4,457.9 L767.6,458.3 L768.8,458.7 L770.0,459.1 L771.2,459.5 L772.4,459.9 L773.5,460.2 L774.7,460.6 L775.9,460.9 L777.1,461.2 L778.3,461.5 L779.5,461.7 L780.7,461.9 L781.9,462.1 L783.1,462.2 L784.3,462.3 L785.4,462.4 L786.6,462.5 L787.8,462.6 L789.0,462.8 L790.2,462.9 L791.4,463.1 L792.6,463.3 L793.8,463.4 L795.0,463.6 L796.2,463.8 L797.3,463.9 L798.5,464.1 L799.7,464.3 L800.9,464.4 L802.1,464.6 L803.3,464.7 L804.5,464.9 L805.7,465.0 L806.9,465.2 L808.1,465.3 L809.2,465.5 L810.4,465.6 L811.6,465.7 L812.8,465.9 L814.0,466.0 L815.2,466.2 L816.4,466.3 L817.6,466.4 L818.8,466.5 L820.0,466.7 L821.2,466.8 L822.3,466.9 L823.5,467.1 L824.7,467.2 L825.9,467.3 L827.1,467.4 L828.3,467.5 L829.5,467.6 L830.7,467.8 L831.9,467.9 L833.1,468.0 L834.2,468.1 L835.4,468.2 L836.6,468.3 L837.8,468.4 L839.0,468.5 L840.2,468.6 L841.4,468.7 L842.6,468.8 L843.8,468.8 L845.0,468.9 L846.1,469.0 L847.3,469.0 L848.5,469.1 L849.7,469.2 L850.9,469.3 L852.1,469.3 L853.3,469.4 L854.5,469.5 L855.7,469.5 L856.9,469.6 L858.0,469.7 L859.2,469.7 L860.4,469.8 L861.6,469.9 L862.8,470.0 L864.0,470.0 L865.2,470.1 L866.4,470.2 L867.6,470.2 L868.8,470.3 L869.9,470.4 L871.1,470.4 L872.3,470.5 L873.5,470.6 L874.7,470.7 L875.9,470.7 L877.1,470.8 L878.3,470.9 L879.5,471.0 L880.7,471.1 L881.9,471.2 L883.0,471.2 L884.2,471.3 L885.4,471.4 L886.6,471.4 L887.8,471.5 L889.0,471.5 L890.2,471.6 L891.4,471.6 L892.6,471.7 L893.8,471.7 L894.9,471.7 L896.1,471.8 L897.3,471.8 L898.5,471.9 L899.7,471.9 L900.9,472.0 L902.1,472.0 L903.3,472.1 L904.5,472.1 L905.7,472.2 L906.8,472.2 L908.0,472.3 L909.2,472.3 L910.4,472.4 L911.6,472.4 L912.8,472.5 L914.0,472.5 L915.2,472.6 L916.4,472.6 L917.6,472.7 L918.7,472.7 L919.9,472.7 L921.1,472.8 L922.3,472.8 L923.5,472.8 L924.7,472.8 L925.9,472.9 L927.1,472.9 L928.3,472.9 L929.5,472.9 L930.6,473.0 L931.8,473.0 L933.0,473.0 L934.2,473.0 L935.4,473.0 L936.6,473.0" fill="none" stroke="#ff0000" stroke-width="2.80" stroke-linejoin="round" />
<path d="M142.8,473.4 L143.9,473.4 L145.1,473.4 L146.3,473.4 M157.0,473.4 L158.2,473.4 L159.4,473.4 L160.3,473.4 M171.0,473.4 L172.2,473.4 L173.4,473.4 L174.3,473.4 M185.3,473.4 L186.5,473.4 L187.7,473.4 L188.6,473.4 M199.3,473.4 L200.5,473.4 L201.7,473.4 L202.6,473.4 M213.3,473.4 L214.5,473.4 L215.7,473.4 L216.6,473.4 M227.6,473.3 L228.8,473.3 L230.0,473.3 L230.9,473.3 M241.6,473.3 L242.8,473.3 L244.0,473.3 L244.9,473.3 M255.6,473.2 L256.8,473.2 L258.0,473.2 L259.2,473.2 M269.9,473.2 L271.1,473.2 L272.3,473.2 L273.1,473.2 M283.9,473.1 L285.1,473.1 L286.2,473.1 L287.1,473.1 M298.1,473.1 L299.3,473.1 L300.5,473.1 L301.4,473.1 M309.8,472.9 L311.0,472.8 L311.5,472.8 M322.3,471.7 L323.5,471.5 L324.6,471.2 L325.8,471.0 L326.4,470.9 M337.1,468.9 L338.3,468.7 L339.5,468.4 M350.2,463.7 L351.4,462.8 L352.0,462.3 M360.9,453.1 L361.9,452.0 L362.3,451.5 M371.1,441.2 L372.3,440.1 L372.9,439.6 M382.4,440.0 L383.6,440.9 L384.2,441.5 M392.8,449.8 L394.0,450.8 L394.6,451.3 M404.4,458.1 L405.6,458.7 L406.2,459.0 M416.9,462.9 L418.1,463.2 L419.3,463.4 M430.0,465.4 L431.2,465.5 L432.4,465.6 M443.1,466.2 L444.3,466.3 L445.5,466.3 L446.4,466.4 M457.1,466.8 L458.3,466.8 L459.5,466.8 M470.2,466.4 L471.4,466.4 L472.6,466.3 L473.8,466.2 L474.4,466.2 M485.1,465.5 L486.3,465.4 L487.5,465.3 L488.4,465.2 M499.1,463.7 L500.3,463.5 L501.5,463.3 L502.4,463.1 M513.4,458.8 L514.6,458.2 L515.8,457.7 L516.7,457.3 M527.4,451.4 L528.6,450.6 L529.8,449.8 L530.6,449.1 M540.7,438.7 L541.7,437.5 L542.6,436.3 L543.3,435.5 M550.4,424.6 L551.0,423.5 L551.6,422.4 L552.2,421.3 M558.0,410.6 L558.6,409.5 L559.2,408.4 L559.8,407.4 L559.9,407.1 M565.7,396.4 L566.5,395.4 L567.6,394.4 L568.8,393.8 M579.0,395.0 L579.6,396.1 L580.2,397.2 L580.8,398.3 M586.8,409.2 L587.4,410.3 L588.0,411.4 L588.5,412.5 M594.4,423.1 L595.0,424.2 L595.5,425.3 L596.1,426.3 L596.3,426.6 M603.8,437.4 L604.8,438.5 L605.7,439.7 L606.7,440.8 M617.0,450.2 L618.2,450.9 L619.4,451.7 L620.6,452.4 M631.3,457.7 L632.5,458.2 L633.7,458.6 L634.5,459.0 M645.3,462.4 L646.5,462.7 L647.6,463.0 L648.5,463.2 M659.5,465.2 L660.7,465.4 L661.9,465.5 L662.8,465.7 M673.5,467.1 L674.7,467.2 L675.9,467.3 L677.1,467.5 L677.4,467.5 M688.1,468.3 L689.3,468.3 L690.5,468.4 L691.1,468.4 M701.8,468.7 L703.0,468.7 L704.2,468.7 L704.8,468.7 M715.5,468.8 L716.7,468.8 L717.9,468.8 L719.1,468.8 M729.8,468.7 L731.0,468.7 L732.2,468.7 L733.4,468.7 L733.7,468.7 M744.4,468.4 L745.6,468.3 L746.8,468.3 L748.0,468.2 M758.7,467.8 L759.9,467.7 L761.1,467.6 L762.0,467.6 M772.7,466.7 L773.9,466.6 L775.1,466.5 L775.7,466.5 M786.4,465.7 L787.6,465.6 L788.7,465.6 L789.9,465.5 M800.7,466.0 L801.8,466.1 L803.0,466.3 L804.2,466.5 M814.9,468.4 L816.1,468.6 L817.3,468.8 L817.9,468.9 M828.6,470.3 L829.8,470.4 L831.0,470.6 L832.2,470.7 M842.9,472.1 L844.1,472.3 L845.3,472.4 L845.9,472.5 M856.6,473.2 L857.8,473.3 L859.0,473.3 L860.2,473.4 M870.9,473.8 L872.1,473.8 L873.3,473.8 L873.9,473.8 M884.6,474.0 L885.8,474.0 L887.0,474.0 L887.9,474.0 M898.6,474.1 L899.8,474.1 L901.0,474.1 L901.9,474.1 M912.9,474.2 L914.1,474.2 L915.3,474.2 L916.2,474.2 M926.9,474.2 L928.1,474.2 L929.3,474.2 L930.2,474.2" fill="none" stroke="#0000ff" stroke-width="2.80" stroke-linejoin="round" stroke-linecap="round"/>
<path d="M143.8,471.0 L144.9,471.2 L146.1,471.4 L147.3,471.6 L148.5,471.9 L149.7,472.0 L150.6,472.2 M163.5,473.2 M165.3,473.2 L166.5,473.2 L167.7,473.3 L168.8,473.3 L170.0,473.3 L171.2,473.3 L172.4,473.3 L173.6,473.3 L174.8,473.2 L175.7,473.2 M188.6,472.7 L189.8,472.6 L191.0,472.5 L192.2,472.5 L193.3,472.4 L194.5,472.4 L195.7,472.4 L196.9,472.3 L198.1,472.3 L199.0,472.2 M211.3,471.9 L212.5,471.8 L213.7,471.8 L214.9,471.8 L216.1,471.7 L217.2,471.7 L218.4,471.7 L219.6,471.6 L220.8,471.6 L221.7,471.6 M234.6,470.9 L235.8,470.8 L237.0,470.7 L238.2,470.6 L239.4,470.5 L240.6,470.4 L241.7,470.3 L242.9,470.2 L244.1,470.1 L245.0,469.9 M257.0,467.3 L258.2,467.0 L259.4,466.6 L260.6,466.2 L261.8,465.8 L263.0,465.3 L264.2,464.9 L265.3,464.3 L266.5,463.8 L267.4,463.4 M276.9,455.4 L277.8,454.3 L278.8,453.2 L279.6,452.0 L280.3,451.0 L280.9,449.9 L281.4,448.9 L282.0,447.8 L282.5,446.8 L283.0,445.8 L283.3,445.0 M288.6,432.6 L289.0,431.6 L289.3,430.6 L289.7,429.6 L290.1,428.5 L290.5,427.5 L291.0,426.5 L291.4,425.4 L291.8,424.3 L292.3,423.3 L292.7,422.2 L292.8,421.9 M300.9,410.5 L302.1,410.5 L303.3,411.0 L304.5,411.6 L305.6,412.4 L306.4,413.5 L307.0,414.5 L307.6,415.6 L308.1,416.7 L308.7,417.7 L308.8,418.0 M314.5,430.9 L315.0,431.9 L315.5,433.0 L316.0,434.0 L316.5,435.0 L317.0,436.1 L317.6,437.1 L318.2,438.1 L318.9,439.2 L319.6,440.3 L320.4,441.4 M331.7,451.5 L332.9,452.1 L334.1,452.2 L335.2,451.0 L336.2,449.8 L337.1,448.8 L338.3,447.7 L339.5,446.7 L340.6,445.9 L341.5,445.3 M348.7,440.9 L349.9,440.1 L351.1,439.3 L352.3,438.4 L353.4,437.6 L354.6,436.7 L355.8,435.7 L357.0,434.7 L358.2,433.6 L359.0,432.7 M365.8,423.1 L366.4,422.0 L367.1,420.8 L367.7,419.8 L368.3,418.7 L368.9,417.6 L369.5,416.5 L370.1,415.4 L370.7,414.3 L371.3,413.3 L371.7,412.5 M381.7,400.6 L382.9,399.8 L384.1,399.1 L385.3,398.5 L386.5,397.8 L387.7,397.2 L388.9,396.4 L390.0,395.6 L391.2,394.8 L392.1,394.1 M400.7,386.3 L401.6,385.2 L402.6,384.0 L403.4,382.9 L404.2,381.8 L405.0,380.7 L405.8,379.6 L406.6,378.5 L407.3,377.4 L407.9,376.4 L408.5,375.6 M415.0,363.9 L415.5,362.9 L416.1,361.9 L416.6,360.9 L417.1,359.8 L417.7,358.8 L418.2,357.7 L418.7,356.7 L419.1,355.7 L419.6,354.7 L420.1,353.6 M426.0,339.8 L426.4,338.8 L426.9,337.7 L427.3,336.7 L427.7,335.6 L428.2,334.6 L428.6,333.5 L429.0,332.4 L429.5,331.4 L429.9,330.3 L430.3,329.3 M435.1,317.0 L435.6,315.9 L436.0,314.8 L436.5,313.8 L437.0,312.7 L437.5,311.7 L438.0,310.6 L438.4,309.6 L438.9,308.5 L439.4,307.5 L439.9,306.4 M446.6,292.7 L447.2,291.6 L447.9,290.5 L448.6,289.4 L449.3,288.3 L450.1,287.2 L450.8,286.0 L451.6,284.9 L452.4,283.9 L453.3,282.8 L453.8,282.2 M465.3,274.2 L466.5,274.1 L467.7,274.1 L468.9,274.3 L470.1,274.6 L471.3,275.1 L472.5,275.6 L473.7,276.2 L474.9,277.0 L475.7,277.7 M487.6,289.0 L488.5,290.1 L489.5,291.2 L490.4,292.3 L491.4,293.4 L492.4,294.4 L493.3,295.5 L494.3,296.5 L495.2,297.6 L496.2,298.6 L497.1,299.7 M508.2,311.0 L509.4,312.1 L510.6,313.1 L511.8,314.1 L512.9,315.0 L514.1,315.9 L515.3,316.7 L516.5,317.5 L517.7,318.2 L518.6,318.8 M532.0,323.1 L533.2,323.0 L534.4,322.8 L535.6,322.5 L536.8,322.1 L537.9,321.7 L539.1,321.3 L540.3,320.8 L541.5,320.2 L542.4,319.8 M554.0,309.2 L554.8,308.2 L555.6,307.2 L556.4,306.1 L557.2,305.0 L558.0,303.9 L558.8,302.8 L559.6,301.7 L560.4,300.6 L561.2,299.6 L561.7,298.8 M571.3,288.2 L572.5,287.6 L573.7,287.2 L574.8,287.1 L576.0,287.0 L577.2,287.1 L578.4,287.3 L579.6,287.8 L580.8,288.4 L581.7,289.1 M592.6,301.3 L593.5,302.5 L594.5,303.7 L595.4,304.9 L596.4,306.0 L597.3,307.2 L598.3,308.2 L599.2,309.3 L600.4,310.5 L601.6,311.6 M615.3,323.3 L616.5,324.1 L617.7,325.0 L618.9,325.8 L620.1,326.5 L621.3,327.3 L622.5,328.0 L623.6,328.7 L624.8,329.4 L625.7,329.9 M638.8,337.2 L640.0,337.9 L641.2,338.7 L642.4,339.5 L643.6,340.3 L644.8,341.2 L646.0,342.1 L647.2,343.0 L648.3,343.9 L649.2,344.6 M661.6,356.8 L662.6,357.8 L663.5,358.9 L664.5,359.9 L665.4,361.0 L666.4,362.0 L667.3,363.1 L668.3,364.1 L669.2,365.2 L670.2,366.2 L671.1,367.3 M681.6,380.1 L682.4,381.1 L683.2,382.2 L684.0,383.2 L684.8,384.2 L685.7,385.3 L686.6,386.5 L687.6,387.6 L688.5,388.8 L689.5,389.9 L690.2,390.8 M701.1,403.7 L702.1,404.8 L703.0,405.9 L704.0,406.9 L704.9,408.0 L705.9,409.0 L706.9,410.0 L707.9,411.1 L709.1,412.3 L710.2,413.5 L711.1,414.3 M723.9,425.8 L725.1,426.8 L726.3,427.8 L727.5,428.8 L728.7,429.7 L729.9,430.6 L731.1,431.5 L732.3,432.3 L733.5,433.1 L734.3,433.7 M747.4,441.1 L748.6,441.7 L749.8,442.2 L751.0,442.8 L752.2,443.3 L753.4,443.8 L754.6,444.4 L755.8,444.9 L757.0,445.4 L757.9,445.7 M770.7,449.8 L771.8,450.1 L773.0,450.4 L774.2,450.7 L775.4,451.1 L776.6,451.3 L777.8,451.6 L779.0,451.9 L780.2,452.2 L781.1,452.4 M794.5,455.6 L795.7,455.9 L796.8,456.2 L798.0,456.5 L799.2,456.8 L800.4,457.1 L801.6,457.4 L802.8,457.7 L804.0,458.0 L804.9,458.2 M817.7,461.9 L818.9,462.2 L820.1,462.5 L821.2,462.8 L822.4,463.1 L823.6,463.3 L824.8,463.6 L826.0,463.8 L827.2,464.0 L828.1,464.2 M840.6,465.9 L841.8,466.0 L843.0,466.2 L844.2,466.3 L845.3,466.4 L846.5,466.6 L847.7,466.7 L848.9,466.9 L850.1,467.0 L851.0,467.1 M863.5,468.5 L864.7,468.7 L865.9,468.8 L867.1,468.9 L868.3,469.0 L869.5,469.1 L870.6,469.3 L871.8,469.4 L873.0,469.5 L873.9,469.6 M886.7,470.6 L887.9,470.7 L889.1,470.7 L890.3,470.8 L891.5,470.9 L892.7,470.9 L893.9,471.0 L895.0,471.1 L896.2,471.1 L897.1,471.2 M909.6,471.9 L910.8,472.0 L912.0,472.1 L913.2,472.1 L914.4,472.2 L915.6,472.3 L916.8,472.3 L918.0,472.4 L919.1,472.5 L920.0,472.5 M932.5,472.9 L933.7,472.9 L934.9,473.0 L936.1,473.0 L937.3,473.0" fill="none" stroke="#000" stroke-width="2.80" stroke-linejoin="round" stroke-linecap="round"/>
</g>
<path d="M144.30,263.60 H937.30 V474.30 H144.30 Z M144.30,474.30 v7.30 M144.30,263.60 v7.30 M193.87,474.30 v4.20 M193.87,263.60 v3.90 M243.44,474.30 v7.30 M243.44,263.60 v7.30 M293.01,474.30 v4.20 M293.01,263.60 v3.90 M342.58,474.30 v7.30 M342.58,263.60 v7.30 M392.14,474.30 v4.20 M392.14,263.60 v3.90 M441.71,474.30 v7.30 M441.71,263.60 v7.30 M491.28,474.30 v4.20 M491.28,263.60 v3.90 M540.85,474.30 v7.30 M540.85,263.60 v7.30 M590.42,474.30 v4.20 M590.42,263.60 v3.90 M639.99,474.30 v7.30 M639.99,263.60 v7.30 M689.56,474.30 v4.20 M689.56,263.60 v3.90 M739.12,474.30 v7.30 M739.12,263.60 v7.30 M788.69,474.30 v4.20 M788.69,263.60 v3.90 M838.26,474.30 v7.30 M838.26,263.60 v7.30 M887.83,474.30 v4.20 M887.83,263.60 v3.90 M937.40,474.30 v7.30 M937.40,263.60 v7.30 M144.30,474.30 h-7.30 M937.30,474.30 h-7.30 M144.30,444.20 h-4.20 M937.30,444.20 h-4.20 M144.30,414.10 h-7.30 M937.30,414.10 h-7.30 M144.30,384.00 h-4.20 M937.30,384.00 h-4.20 M144.30,353.90 h-7.30 M937.30,353.90 h-7.30 M144.30,323.80 h-4.20 M937.30,323.80 h-4.20 M144.30,293.70 h-7.30 M937.30,293.70 h-7.30 M144.30,263.60 h-4.20 M937.30,263.60 h-4.20" fill="none" stroke="#000" stroke-width="1.50" stroke-linecap="butt"/>
<text transform="translate(117.81,480.90) scale(0.9500,1)" font-size="30.5" stroke="#000" stroke-width="0.25">0</text>
<text transform="translate(88.84,420.70) scale(0.9500,1)" font-size="30.5" stroke="#000" stroke-width="0.25">500</text>
<text transform="translate(74.35,360.50) scale(0.9500,1)" font-size="30.5" stroke="#000" stroke-width="0.25">1000</text>
<text transform="translate(74.35,300.30) scale(0.9500,1)" font-size="30.5" stroke="#000" stroke-width="0.25">1500</text>
<g clip-path="url(#pcc)">
<clipPath id="cc"><path d="M142.8,702.1 L142.8,698.7 L144.0,698.9 L145.1,699.1 L146.3,699.3 L147.5,699.6 L148.7,699.7 L149.9,699.9 L151.1,700.1 L152.3,700.2 L153.5,700.4 L154.7,700.5 L155.9,700.6 L157.1,700.6 L158.3,700.7 L159.5,700.7 L160.7,700.8 L161.9,700.8 L163.1,700.9 L164.3,700.9 L165.5,700.9 L166.7,701.0 L167.9,701.0 L169.1,701.0 L170.3,701.0 L171.5,701.0 L172.7,701.0 L173.9,700.9 L175.1,700.9 L176.3,700.8 L177.5,700.8 L178.7,700.8 L179.9,700.7 L181.1,700.6 L182.3,700.6 L183.5,700.5 L184.7,700.5 L185.8,700.4 L187.0,700.4 L188.2,700.3 L189.4,700.3 L190.6,700.2 L191.8,700.2 L193.0,700.1 L194.2,700.1 L195.4,700.0 L196.6,700.0 L197.8,699.9 L199.0,699.9 L200.2,699.9 L201.4,699.8 L202.6,699.8 L203.8,699.8 L205.0,699.7 L206.2,699.7 L207.4,699.7 L208.6,699.6 L209.8,699.6 L211.0,699.6 L212.2,699.5 L213.4,699.5 L214.6,699.5 L215.8,699.4 L217.0,699.4 L218.2,699.4 L219.4,699.3 L220.6,699.3 L221.8,699.2 L223.0,699.2 L224.2,699.2 L225.4,699.1 L226.5,699.0 L227.7,699.0 L228.9,698.9 L230.1,698.8 L231.3,698.7 L232.5,698.6 L233.7,698.6 L234.9,698.5 L236.1,698.4 L237.3,698.3 L238.5,698.2 L239.7,698.1 L240.9,698.0 L242.1,697.9 L243.3,697.8 L244.5,697.6 L245.7,697.5 L246.9,697.4 L248.1,697.2 L249.3,697.0 L250.5,696.8 L251.7,696.6 L252.9,696.4 L254.1,696.2 L255.3,695.9 L256.5,695.7 L257.7,695.4 L258.9,695.1 L260.1,694.9 L261.3,694.5 L262.5,694.0 L263.7,693.5 L264.9,692.9 L266.1,692.2 L267.2,691.5 L268.4,690.8 L269.6,690.0 L270.8,689.0 L272.0,688.0 L273.2,686.9 L274.4,685.7 L275.6,684.3 L276.8,682.7 L278.0,680.9 L279.2,679.1 L280.4,677.1 L281.6,675.1 L282.8,672.9 L284.0,670.6 L285.2,668.2 L286.4,665.7 L287.6,663.1 L288.8,660.3 L290.0,657.3 L291.2,654.0 L292.4,650.6 L293.6,647.0 L294.8,643.0 L296.0,638.5 L297.2,633.6 L298.4,627.6 L299.6,620.5 L300.8,612.2 L302.0,618.0 L303.1,625.2 L304.3,632.6 L305.5,636.7 L306.7,640.1 L307.9,643.2 L309.1,646.3 L310.3,649.4 L311.5,652.3 L312.7,655.1 L313.9,657.6 L315.1,660.0 L316.2,662.3 L317.4,664.4 L318.6,666.4 L319.8,668.2 L321.0,670.0 L322.2,671.6 L323.4,673.1 L324.6,674.4 L325.8,675.5 L327.0,676.4 L328.1,677.3 L329.3,678.1 L330.5,678.9 L331.7,679.7 L332.9,680.5 L334.1,681.2 L335.3,682.0 L336.5,682.7 L337.7,683.4 L338.9,684.0 L340.0,684.5 L341.2,684.8 L342.4,684.9 L343.6,684.9 L344.8,684.8 L346.0,684.7 L347.2,684.5 L348.4,684.3 L349.6,684.0 L350.8,683.7 L352.0,683.4 L353.1,683.0 L354.3,682.5 L355.5,682.0 L356.7,681.4 L357.9,680.7 L359.1,680.0 L360.3,679.2 L361.5,678.4 L362.7,677.5 L363.9,676.6 L365.0,675.6 L366.2,674.5 L367.4,673.3 L368.6,671.9 L369.8,670.5 L371.0,669.0 L372.2,667.6 L373.4,666.3 L374.6,665.2 L375.8,664.3 L376.9,663.4 L378.1,662.7 L379.3,662.0 L380.5,661.4 L381.7,660.9 L382.9,660.4 L384.1,660.1 L385.3,659.8 L386.5,659.5 L387.7,659.3 L388.9,659.2 L390.0,659.1 L391.2,659.0 L392.4,659.0 L393.6,659.1 L394.8,659.2 L396.0,659.5 L397.2,659.7 L398.4,660.0 L399.6,660.2 L400.8,660.3 L401.9,660.3 L403.1,660.3 L404.3,660.2 L405.5,660.1 L406.7,659.9 L407.9,659.8 L409.1,659.6 L410.3,659.4 L411.5,659.2 L412.7,659.0 L413.8,658.8 L415.0,658.6 L416.2,658.4 L417.4,658.0 L418.6,657.6 L419.8,657.1 L421.0,656.7 L422.2,656.2 L423.4,655.7 L424.6,655.3 L425.8,655.0 L426.9,654.7 L428.1,654.9 L429.3,654.7 L430.5,654.5 L431.7,654.2 L432.9,653.9 L434.1,653.5 L435.3,653.2 L436.5,652.8 L437.7,652.5 L438.8,652.2 L440.0,652.0 L441.2,651.9 L442.4,651.8 L443.6,651.6 L444.8,651.5 L446.0,651.4 L447.2,651.3 L448.4,651.1 L449.6,651.0 L450.8,651.0 L451.9,650.9 L453.1,650.9 L454.3,651.0 L455.5,651.1 L456.7,651.2 L457.9,651.3 L459.1,651.5 L460.3,651.6 L461.5,651.8 L462.7,652.0 L463.8,652.2 L465.0,652.4 L466.2,652.7 L467.4,652.9 L468.6,653.2 L469.8,653.4 L471.0,653.7 L472.2,654.0 L473.4,654.3 L474.6,654.6 L475.7,654.9 L476.9,655.2 L478.1,655.5 L479.3,655.8 L480.5,656.1 L481.7,656.3 L482.9,656.6 L484.1,656.8 L485.3,657.1 L486.5,657.3 L487.7,657.6 L488.8,657.8 L490.0,658.1 L491.2,658.3 L492.4,658.5 L493.6,658.7 L494.8,659.0 L496.0,659.2 L497.2,659.4 L498.4,659.7 L499.6,659.9 L500.7,660.1 L501.9,660.3 L503.1,660.4 L504.3,660.6 L505.5,660.8 L506.7,661.0 L507.9,661.2 L509.1,661.3 L510.3,661.5 L511.5,661.7 L512.6,661.8 L513.8,661.8 L515.0,661.9 L516.2,661.9 L517.4,661.9 L518.6,661.9 L519.8,661.8 L521.0,661.7 L522.2,661.6 L523.4,661.5 L524.6,661.4 L525.7,661.2 L526.9,661.0 L528.1,660.6 L529.3,660.2 L530.5,659.8 L531.7,659.3 L532.9,658.7 L534.1,658.1 L535.3,657.4 L536.5,656.7 L537.6,656.0 L538.8,655.2 L540.0,654.4 L541.2,653.5 L542.4,652.5 L543.6,651.5 L544.8,650.4 L546.0,649.2 L547.2,648.0 L548.4,646.7 L549.5,645.4 L550.7,644.0 L551.9,642.5 L553.1,641.0 L554.3,639.4 L555.5,637.9 L556.7,636.2 L557.9,634.6 L559.1,632.9 L560.3,631.0 L561.5,629.0 L562.6,627.0 L563.8,625.0 L565.0,623.2 L566.2,621.6 L567.4,620.2 L568.6,619.0 L569.8,618.0 L571.0,617.2 L572.2,616.5 L573.4,616.1 L574.5,615.8 L575.7,615.7 L576.9,615.7 L578.1,615.9 L579.3,616.3 L580.5,616.8 L581.7,617.4 L582.9,618.1 L584.1,618.9 L585.3,619.7 L586.4,620.7 L587.6,621.7 L588.8,623.0 L590.0,624.3 L591.2,625.9 L592.4,627.6 L593.6,629.5 L594.8,631.3 L596.0,633.1 L597.2,634.8 L598.4,636.2 L599.5,637.6 L600.7,638.9 L601.9,640.2 L603.1,641.5 L604.3,642.7 L605.5,643.9 L606.7,645.1 L607.9,646.3 L609.1,647.4 L610.3,648.6 L611.4,649.7 L612.6,650.8 L613.8,651.9 L615.0,652.9 L616.2,653.8 L617.4,654.8 L618.6,655.6 L619.8,656.5 L621.0,657.3 L622.2,658.1 L623.3,658.8 L624.5,659.5 L625.7,660.1 L626.9,660.7 L628.1,661.2 L629.3,661.8 L630.5,662.4 L631.7,663.0 L632.9,663.5 L634.1,664.1 L635.3,664.6 L636.4,665.1 L637.6,665.6 L638.8,666.1 L640.0,666.6 L641.2,667.1 L642.4,667.6 L643.6,668.1 L644.8,668.6 L646.0,669.1 L647.2,669.6 L648.3,670.0 L649.5,670.5 L650.7,671.0 L651.9,671.5 L653.1,672.0 L654.3,672.4 L655.5,672.9 L656.7,673.4 L657.9,673.8 L659.1,674.3 L660.3,674.7 L661.4,675.2 L662.6,675.6 L663.8,676.1 L665.0,676.5 L666.2,677.0 L667.4,677.4 L668.6,677.9 L669.8,678.3 L671.0,678.8 L672.2,679.2 L673.3,679.6 L674.5,680.0 L675.7,680.4 L676.9,680.8 L678.1,681.2 L679.3,681.6 L680.5,682.0 L681.7,682.4 L682.9,682.7 L684.1,683.1 L685.2,683.5 L686.4,683.8 L687.6,684.1 L688.8,684.4 L690.0,684.8 L691.2,685.1 L692.4,685.4 L693.6,685.7 L694.8,686.0 L696.0,686.2 L697.2,686.5 L698.3,686.8 L699.5,687.1 L700.7,687.4 L701.9,687.6 L703.1,687.9 L704.3,688.2 L705.5,688.4 L706.7,688.7 L707.9,688.9 L709.1,689.2 L710.2,689.4 L711.4,689.6 L712.6,689.8 L713.8,690.0 L715.0,690.2 L716.2,690.4 L717.4,690.6 L718.6,690.8 L719.8,691.0 L721.0,691.1 L722.1,691.3 L723.3,691.4 L724.5,691.6 L725.7,691.8 L726.9,691.9 L728.1,692.0 L729.3,692.2 L730.5,692.3 L731.7,692.5 L732.9,692.6 L734.1,692.7 L735.2,692.9 L736.4,693.0 L737.6,693.1 L738.8,693.2 L740.0,693.3 L741.2,693.4 L742.4,693.5 L743.6,693.6 L744.8,693.6 L746.0,693.7 L747.1,693.8 L748.3,693.8 L749.5,693.9 L750.7,693.9 L751.9,694.0 L753.1,694.0 L754.3,694.0 L755.5,694.0 L756.7,694.0 L757.9,694.0 L759.0,694.0 L760.2,694.1 L761.4,694.1 L762.6,694.1 L763.8,694.1 L765.0,694.0 L766.2,694.0 L767.4,694.0 L768.6,694.0 L769.8,694.0 L771.0,693.9 L772.1,693.9 L773.3,693.9 L774.5,693.9 L775.7,693.8 L776.9,693.8 L778.1,693.8 L779.3,693.8 L780.5,693.7 L781.7,693.7 L782.9,693.7 L784.0,693.7 L785.2,693.6 L786.4,693.6 L787.6,693.6 L788.8,693.6 L790.0,693.5 L791.2,693.5 L792.4,693.5 L793.6,693.5 L794.8,693.4 L795.9,693.4 L797.1,693.4 L798.3,693.4 L799.5,693.5 L800.7,693.5 L801.9,693.7 L803.1,693.8 L804.3,693.9 L805.5,694.1 L806.7,694.3 L807.9,694.4 L809.0,694.6 L810.2,694.8 L811.4,694.9 L812.6,695.1 L813.8,695.2 L815.0,695.4 L816.2,695.5 L817.4,695.7 L818.6,695.8 L819.8,696.0 L820.9,696.1 L822.1,696.3 L823.3,696.4 L824.5,696.6 L825.7,696.7 L826.9,696.9 L828.1,697.0 L829.3,697.1 L830.5,697.3 L831.7,697.4 L832.8,697.5 L834.0,697.7 L835.2,697.8 L836.4,698.0 L837.6,698.1 L838.8,698.2 L840.0,698.4 L841.2,698.5 L842.4,698.6 L843.6,698.8 L844.8,698.9 L845.9,699.0 L847.1,699.1 L848.3,699.2 L849.5,699.4 L850.7,699.5 L851.9,699.6 L853.1,699.7 L854.3,699.8 L855.5,699.8 L856.7,699.9 L857.8,700.0 L859.0,700.1 L860.2,700.1 L861.4,700.2 L862.6,700.3 L863.8,700.4 L865.0,700.4 L866.2,700.5 L867.4,700.6 L868.6,700.6 L869.8,700.7 L870.9,700.8 L872.1,700.8 L873.3,700.9 L874.5,700.9 L875.7,701.0 L876.9,701.1 L878.1,701.1 L879.3,701.2 L880.5,701.2 L881.7,701.3 L882.8,701.3 L884.0,701.4 L885.2,701.4 L886.4,701.5 L887.6,701.5 L888.8,701.5 L890.0,701.6 L891.2,701.6 L892.4,701.6 L893.6,701.7 L894.7,701.7 L895.9,701.7 L897.1,701.7 L898.3,701.8 L899.5,701.8 L900.7,701.8 L901.9,701.8 L903.1,701.9 L904.3,701.9 L905.5,701.9 L906.7,701.9 L907.8,701.9 L909.0,701.9 L910.2,701.9 L911.4,702.0 L912.6,702.0 L913.8,702.0 L915.0,702.0 L916.2,702.0 L917.4,702.0 L918.6,702.0 L919.7,702.0 L920.9,702.0 L922.1,702.0 L923.3,702.0 L924.5,702.0 L925.7,702.0 L926.9,702.0 L928.1,702.0 L929.3,702.0 L930.5,702.0 L931.6,702.0 L932.8,702.0 L934.0,702.0 L935.2,702.0 L936.4,702.0 L937.6,702.0 L937.6,702.1 Z"/></clipPath><path clip-path="url(#cc)" d="M-111.66,702.10 l230,-230 M-95.14,702.10 l230,-230 M-78.62,702.10 l230,-230 M-62.10,702.10 l230,-230 M-45.58,702.10 l230,-230 M-29.06,702.10 l230,-230 M-12.54,702.10 l230,-230 M3.98,702.10 l230,-230 M20.50,702.10 l230,-230 M37.02,702.10 l230,-230 M53.54,702.10 l230,-230 M70.06,702.10 l230,-230 M86.58,702.10 l230,-230 M103.10,702.10 l230,-230 M119.62,702.10 l230,-230 M136.14,702.10 l230,-230 M152.66,702.10 l230,-230 M169.18,702.10 l230,-230 M185.70,702.10 l230,-230 M202.22,702.10 l230,-230 M218.74,702.10 l230,-230 M235.26,702.10 l230,-230 M251.78,702.10 l230,-230 M268.30,702.10 l230,-230 M284.82,702.10 l230,-230 M301.34,702.10 l230,-230 M317.86,702.10 l230,-230 M334.38,702.10 l230,-230 M350.90,702.10 l230,-230 M367.42,702.10 l230,-230 M383.94,702.10 l230,-230 M400.46,702.10 l230,-230 M416.98,702.10 l230,-230 M433.50,702.10 l230,-230 M450.02,702.10 l230,-230 M466.54,702.10 l230,-230 M483.06,702.10 l230,-230 M499.58,702.10 l230,-230 M516.10,702.10 l230,-230 M532.62,702.10 l230,-230 M549.14,702.10 l230,-230 M565.66,702.10 l230,-230 M582.18,702.10 l230,-230 M598.70,702.10 l230,-230 M615.22,702.10 l230,-230 M631.74,702.10 l230,-230 M648.26,702.10 l230,-230 M664.78,702.10 l230,-230 M681.30,702.10 l230,-230 M697.82,702.10 l230,-230 M714.34,702.10 l230,-230 M730.86,702.10 l230,-230 M747.38,702.10 l230,-230 M763.90,702.10 l230,-230 M780.42,702.10 l230,-230 M796.94,702.10 l230,-230 M813.46,702.10 l230,-230 M829.98,702.10 l230,-230 M846.50,702.10 l230,-230 M863.02,702.10 l230,-230 M879.54,702.10 l230,-230 M896.06,702.10 l230,-230 M912.58,702.10 l230,-230 M929.10,702.10 l230,-230 M945.62,702.10 l230,-230" stroke="#2a2aff" stroke-width="1.10" fill="none"/>
<path d="M144.5,702.4 L333.2,702.4 L333.2,702.0 L334.4,695.1 L335.6,693.3 L336.8,691.8 L338.0,690.9 L339.1,690.4 L340.3,689.8 L341.5,689.3 L342.7,688.8 L343.9,688.2 L345.1,687.7 L346.3,687.1 L347.5,686.5 L348.7,685.8 L349.9,685.2 L351.0,684.6 L352.2,684.0 L353.4,683.5 L354.6,682.9 L355.8,682.3 L357.0,681.8 L358.2,681.3 L359.4,680.8 L360.6,680.3 L361.8,679.8 L362.9,679.3 L364.1,678.8 L365.3,678.3 L366.5,677.7 L367.7,677.2 L368.9,676.7 L370.1,676.1 L371.3,675.5 L372.5,674.9 L373.7,674.3 L374.8,673.7 L376.0,673.1 L377.2,672.5 L378.4,671.9 L379.6,671.3 L380.8,670.6 L382.0,669.9 L383.2,669.2 L384.4,668.5 L385.5,667.8 L386.7,667.0 L387.9,666.3 L389.1,665.5 L390.3,664.7 L391.5,663.8 L392.7,662.9 L393.9,661.9 L395.1,660.9 L396.3,659.9 L397.4,658.9 L398.6,657.8 L399.8,656.6 L401.0,655.4 L402.2,654.1 L403.4,652.7 L404.6,651.2 L405.8,649.7 L407.0,648.1 L408.2,646.5 L409.3,644.9 L410.5,643.4 L411.7,641.8 L412.9,639.9 L414.1,637.7 L415.3,635.4 L416.5,633.0 L417.7,630.6 L418.9,628.1 L420.1,625.7 L421.2,623.3 L422.4,620.9 L423.6,618.6 L424.8,616.3 L426.0,613.9 L427.2,611.5 L428.4,609.1 L429.6,606.8 L430.8,604.4 L432.0,602.0 L433.1,599.6 L434.3,597.1 L435.5,594.6 L436.7,591.9 L437.9,589.3 L439.1,586.9 L440.3,584.6 L441.5,582.2 L442.7,579.9 L443.8,577.5 L445.0,575.1 L446.2,572.7 L447.4,570.4 L448.6,568.1 L449.8,566.0 L451.0,563.9 L452.2,562.1 L453.4,560.6 L454.6,559.3 L455.7,558.0 L456.9,556.8 L458.1,555.7 L459.3,554.8 L460.5,554.0 L461.7,553.3 L462.9,552.8 L464.1,552.4 L465.3,552.0 L466.5,551.7 L467.6,551.5 L468.8,551.3 L470.0,551.3 L471.2,551.4 L472.4,551.5 L473.6,551.9 L474.8,552.3 L476.0,552.8 L477.2,553.5 L478.4,554.2 L479.5,554.9 L480.7,555.8 L481.9,556.7 L483.1,557.7 L484.3,558.7 L485.5,559.7 L486.7,560.8 L487.9,561.9 L489.1,563.0 L490.2,564.1 L491.4,565.2 L492.6,566.3 L493.8,567.4 L495.0,568.5 L496.2,569.6 L497.4,570.7 L498.6,571.9 L499.8,573.0 L501.0,574.1 L502.1,575.3 L503.3,576.4 L504.5,577.4 L505.7,578.4 L506.9,579.4 L508.1,580.4 L509.3,581.4 L510.5,582.3 L511.7,583.2 L512.9,584.1 L514.0,584.9 L515.2,585.7 L516.4,586.5 L517.6,587.2 L518.8,587.8 L520.0,588.4 L521.2,589.0 L522.4,589.5 L523.6,590.1 L524.8,590.7 L525.9,591.2 L527.1,591.8 L528.3,592.4 L529.5,592.9 L530.7,593.5 L531.9,594.0 L533.1,594.6 L534.3,595.1 L535.5,595.5 L536.6,595.9 L537.8,596.2 L539.0,596.5 L540.2,596.7 L541.4,597.0 L542.6,597.2 L543.8,597.4 L545.0,597.6 L546.2,597.8 L547.4,597.9 L548.5,598.0 L549.7,598.0 L550.9,598.1 L552.1,598.2 L553.3,598.2 L554.5,598.3 L555.7,598.4 L556.9,598.5 L558.1,598.6 L559.3,598.7 L560.4,598.8 L561.6,598.9 L562.8,599.1 L564.0,599.3 L565.2,599.5 L566.4,599.7 L567.6,599.9 L568.8,600.1 L570.0,600.3 L571.2,600.6 L572.3,600.8 L573.5,601.0 L574.7,601.2 L575.9,601.5 L577.1,601.7 L578.3,601.8 L579.5,602.0 L580.7,602.2 L581.9,602.3 L583.1,602.4 L584.2,602.5 L585.4,602.6 L586.6,602.6 L587.8,602.7 L589.0,602.7 L590.2,602.7 L591.4,602.7 L592.6,602.7 L593.8,602.7 L594.9,602.7 L596.1,602.7 L597.3,602.6 L598.5,602.6 L599.7,602.5 L600.9,602.4 L602.1,602.3 L603.3,602.2 L604.5,602.1 L605.7,602.0 L606.8,601.9 L608.0,601.7 L609.2,601.6 L610.4,601.5 L611.6,601.4 L612.8,601.3 L614.0,601.1 L615.2,601.0 L616.4,600.9 L617.6,600.8 L618.7,600.7 L619.9,600.6 L621.1,600.6 L622.3,600.5 L623.5,600.5 L624.7,600.4 L625.9,600.4 L627.1,600.4 L628.3,600.4 L629.5,600.4 L630.6,600.4 L631.8,600.4 L633.0,600.5 L634.2,600.6 L635.4,600.7 L636.6,600.9 L637.8,601.0 L639.0,601.2 L640.2,601.4 L641.3,601.7 L642.5,602.0 L643.7,602.3 L644.9,602.6 L646.1,603.0 L647.3,603.5 L648.5,603.9 L649.7,604.4 L650.9,604.9 L652.1,605.4 L653.2,605.9 L654.4,606.5 L655.6,607.1 L656.8,607.7 L658.0,608.4 L659.2,609.2 L660.4,610.0 L661.6,610.8 L662.8,611.7 L664.0,612.6 L665.1,613.6 L666.3,614.6 L667.5,615.5 L668.7,616.6 L669.9,617.6 L671.1,618.6 L672.3,619.7 L673.5,620.7 L674.7,621.8 L675.9,622.9 L677.0,624.0 L678.2,625.2 L679.4,626.4 L680.6,627.6 L681.8,628.8 L683.0,630.0 L684.2,631.2 L685.4,632.4 L686.6,633.6 L687.7,634.7 L688.9,635.9 L690.1,637.1 L691.3,638.3 L692.5,639.5 L693.7,640.7 L694.9,641.9 L696.1,643.0 L697.3,644.2 L698.5,645.4 L699.6,646.5 L700.8,647.7 L702.0,648.8 L703.2,649.9 L704.4,651.1 L705.6,652.1 L706.8,653.2 L708.0,654.2 L709.2,655.2 L710.4,656.2 L711.5,657.2 L712.7,658.2 L713.9,659.1 L715.1,660.1 L716.3,661.0 L717.5,662.0 L718.7,662.9 L719.9,663.8 L721.1,664.8 L722.3,665.7 L723.4,666.5 L724.6,667.4 L725.8,668.2 L727.0,668.9 L728.2,669.7 L729.4,670.4 L730.6,671.0 L731.8,671.7 L733.0,672.4 L734.2,673.1 L735.3,673.8 L736.5,674.5 L737.7,675.1 L738.9,675.7 L740.1,676.3 L741.3,676.9 L742.5,677.5 L743.7,678.0 L744.9,678.5 L746.0,679.0 L747.2,679.5 L748.4,680.0 L749.6,680.5 L750.8,681.0 L752.0,681.4 L753.2,681.9 L754.4,682.3 L755.6,682.8 L756.8,683.2 L757.9,683.5 L759.1,683.9 L760.3,684.3 L761.5,684.6 L762.7,684.9 L763.9,685.3 L765.1,685.6 L766.3,685.9 L767.5,686.2 L768.7,686.5 L769.8,686.8 L771.0,687.1 L772.2,687.4 L773.4,687.7 L774.6,688.0 L775.8,688.2 L777.0,688.5 L778.2,688.7 L779.4,688.9 L780.6,689.2 L781.7,689.4 L782.9,689.6 L784.1,689.9 L785.3,690.1 L786.5,690.3 L787.7,690.6 L788.9,690.8 L790.1,691.0 L791.3,691.2 L792.4,691.5 L793.6,691.7 L794.8,691.9 L796.0,692.2 L797.2,692.4 L798.4,692.7 L799.6,692.9 L800.8,693.1 L802.0,693.4 L803.2,693.6 L804.3,693.8 L805.5,694.0 L806.7,694.2 L807.9,694.4 L809.1,694.6 L810.3,694.7 L811.5,694.9 L812.7,695.0 L813.9,695.2 L815.1,695.3 L816.2,695.4 L817.4,695.5 L818.6,695.6 L819.8,695.7 L821.0,695.8 L822.2,695.9 L823.4,696.0 L824.6,696.1 L825.8,696.2 L827.0,696.3 L828.1,696.4 L829.3,696.5 L830.5,696.6 L831.7,696.6 L832.9,696.7 L834.1,696.8 L835.3,696.9 L836.5,697.0 L837.7,697.0 L838.8,697.1 L840.0,697.2 L841.2,697.3 L842.4,697.3 L843.6,697.4 L844.8,697.5 L846.0,697.6 L847.2,697.7 L848.4,697.8 L849.6,697.8 L850.7,697.9 L851.9,698.0 L853.1,698.1 L854.3,698.2 L855.5,698.3 L856.7,698.4 L857.9,698.5 L859.1,698.5 L860.3,698.6 L861.5,698.7 L862.6,698.8 L863.8,698.8 L865.0,698.9 L866.2,699.0 L867.4,699.0 L868.6,699.1 L869.8,699.2 L871.0,699.2 L872.2,699.3 L873.4,699.4 L874.5,699.4 L875.7,699.5 L876.9,699.6 L878.1,699.6 L879.3,699.7 L880.5,699.7 L881.7,699.8 L882.9,699.9 L884.1,699.9 L885.3,700.0 L886.4,700.0 L887.6,700.1 L888.8,700.1 L890.0,700.2 L891.2,700.2 L892.4,700.2 L893.6,700.3 L894.8,700.3 L896.0,700.4 L897.1,700.4 L898.3,700.5 L899.5,700.5 L900.7,700.5 L901.9,700.6 L903.1,700.7 L904.3,700.7 L905.5,700.8 L906.7,700.8 L907.9,700.9 L909.0,700.9 L910.2,701.0 L911.4,701.0 L912.6,701.1 L913.8,701.1 L915.0,701.1 L916.2,701.2 L917.4,701.2 L918.6,701.2 L919.8,701.3 L920.9,701.3 L922.1,701.3 L923.3,701.3 L924.5,701.4 L925.7,701.4 L926.9,701.4 L928.1,701.4 L929.3,701.4 L930.5,701.5 L931.7,701.5 L932.8,701.5 L934.0,701.5 L935.2,701.6 L936.4,701.6 L937.6,701.6" fill="none" stroke="#ff0000" stroke-width="2.80" stroke-linejoin="round" />
<path d="M142.8,698.7 L144.0,698.9 L145.1,699.1 L146.3,699.3 M157.1,700.6 L158.3,700.7 L159.5,700.7 L160.4,700.8 M171.2,701.0 L172.4,701.0 L173.6,700.9 L174.5,700.9 M185.2,700.5 L186.4,700.4 L187.6,700.3 L188.5,700.3 M199.3,699.9 L200.5,699.9 L201.7,699.8 L202.6,699.8 M213.4,699.5 L214.6,699.5 L215.8,699.4 L216.7,699.4 M227.4,699.0 L228.6,698.9 L229.8,698.8 L230.7,698.8 M241.5,697.9 L242.7,697.8 L243.9,697.7 L244.8,697.6 M250.8,696.8 L252.0,696.6 L252.6,696.4 M263.4,693.6 L264.6,693.0 L265.8,692.4 L266.7,691.9 M273.8,686.3 L274.9,685.1 L275.4,684.6 M282.2,674.0 L282.8,672.9 L283.3,671.9 L283.9,670.9 L284.3,670.1 M289.2,659.3 L289.6,658.3 L290.0,657.3 L290.4,656.3 L290.5,655.8 M294.2,645.0 L294.5,644.0 L294.8,643.0 L294.9,642.5 M297.5,631.8 L297.7,630.8 L297.9,629.8 L298.1,628.8 L298.2,628.6 M300.0,617.7 L300.1,616.7 L300.3,615.7 L300.3,615.5 M302.2,619.5 L302.4,620.6 L302.6,621.6 L302.7,622.6 L302.8,622.9 M304.6,633.6 L304.9,634.6 L305.2,635.7 L305.5,636.7 L305.6,637.0 M309.7,647.8 L310.1,648.9 L310.5,649.9 L310.9,651.0 L311.4,652.1 L311.6,652.6 M316.8,663.4 L317.4,664.4 L318.1,665.5 L318.8,666.7 M327.0,676.4 L328.1,677.3 L328.7,677.7 M338.9,684.0 L340.0,684.5 L340.6,684.6 M351.4,683.6 L352.5,683.2 L353.7,682.7 L354.3,682.5 M365.0,675.6 L366.2,674.5 L366.5,674.2 M374.9,665.0 L376.1,664.1 L376.7,663.6 M386.8,659.5 L388.0,659.3 L388.6,659.2 M399.3,660.2 L400.5,660.3 L401.6,660.3 L402.8,660.3 L403.1,660.3 M413.8,658.8 L415.0,658.6 L415.9,658.4 M426.6,654.8 L427.8,654.8 L429.0,654.8 L429.6,654.7 M440.3,652.0 L441.5,651.8 L442.1,651.8 M452.8,650.9 L454.0,651.0 L455.2,651.0 L456.4,651.2 M467.1,652.8 L468.3,653.1 L469.5,653.4 L470.4,653.6 M481.1,656.2 L482.3,656.5 L483.5,656.7 L484.4,656.9 M495.1,659.0 L496.3,659.3 L497.5,659.5 L498.4,659.7 M509.1,661.3 L510.3,661.5 L511.5,661.7 L512.6,661.8 M523.4,661.5 L524.6,661.4 L525.7,661.2 L526.9,661.0 M537.6,656.0 L538.8,655.2 L540.0,654.4 L540.6,653.9 M550.7,644.0 L551.7,642.8 L552.5,641.8 L552.7,641.5 M560.4,630.7 L561.1,629.6 L561.7,628.5 L562.3,627.5 L562.6,627.0 M571.3,617.0 L572.5,616.4 L573.7,616.0 L574.8,615.8 L575.4,615.7 M586.2,620.4 L587.3,621.5 L588.5,622.7 L589.5,623.8 M597.0,634.5 L597.9,635.7 L598.8,636.8 L599.8,637.8 L600.5,638.6 M611.1,649.4 L612.3,650.5 L613.5,651.6 L614.7,652.6 M625.4,659.9 L626.6,660.5 L627.8,661.1 L628.7,661.5 M639.4,666.4 L640.6,666.9 L641.8,667.4 L643.0,667.8 L643.3,668.0 M654.0,672.3 L655.2,672.8 L656.4,673.2 L657.3,673.6 M668.0,677.7 L669.2,678.1 L670.4,678.5 L671.6,679.0 L671.9,679.1 M682.6,682.7 L683.8,683.0 L684.9,683.4 L685.5,683.5 M696.3,686.3 L697.4,686.6 L698.6,686.9 L699.8,687.2 M710.5,689.4 L711.7,689.7 L712.9,689.9 L713.8,690.0 M724.5,691.6 L725.7,691.8 L726.9,691.9 L727.8,692.0 M738.5,693.2 L739.7,693.3 L740.9,693.4 L741.8,693.4 M752.5,694.0 L753.7,694.0 L754.9,694.0 L756.1,694.0 M766.8,694.0 L768.0,694.0 L769.2,694.0 L770.1,694.0 M780.8,693.7 L782.0,693.7 L783.2,693.7 L784.0,693.7 M794.8,693.4 L795.9,693.4 L797.1,693.4 L798.3,693.4 L798.6,693.4 M809.3,694.6 L810.5,694.8 L811.7,695.0 L812.3,695.0 M823.0,696.4 L824.2,696.5 L825.4,696.7 L826.6,696.8 M837.3,698.1 L838.5,698.2 L839.7,698.3 L840.3,698.4 M851.0,699.5 L852.2,699.6 L853.4,699.7 L854.0,699.7 M864.7,700.4 L865.9,700.5 L867.1,700.5 L868.3,700.6 M879.0,701.2 L880.2,701.2 L881.4,701.3 M892.1,701.6 L893.3,701.7 L894.5,701.7 L895.3,701.7 M906.1,701.9 L907.2,701.9 L908.4,701.9 L909.3,701.9 M920.3,702.0 L921.5,702.0 L922.7,702.0 L923.6,702.0 M934.3,702.0 L935.5,702.0 L936.7,702.0 L937.6,702.0" fill="none" stroke="#0000ff" stroke-width="2.80" stroke-linejoin="round" stroke-linecap="round"/>
<path d="M142.8,698.7 L144.0,698.9 L145.1,699.1 L146.3,699.3 L147.5,699.6 L148.7,699.7 L149.6,699.9 M162.5,700.9 L163.7,700.9 M165.5,700.9 L166.7,701.0 L167.9,701.0 L169.1,701.0 L170.3,701.0 L171.5,701.0 L172.7,701.0 L173.9,700.9 L175.1,700.9 L176.0,700.9 M188.8,700.3 L190.0,700.2 L191.2,700.2 L192.4,700.1 L193.6,700.1 L194.8,700.0 L196.0,700.0 L197.2,700.0 L198.4,699.9 L199.3,699.9 M211.3,699.6 L212.5,699.5 L213.7,699.5 L214.9,699.5 L216.1,699.4 L217.3,699.4 L218.5,699.3 L219.7,699.3 L220.9,699.3 L221.8,699.2 M234.6,698.5 L235.8,698.4 L237.0,698.3 L238.2,698.2 L239.4,698.1 L240.6,698.0 L241.8,697.9 L243.0,697.8 L244.2,697.7 L245.1,697.6 M258.0,695.3 L259.2,695.1 L260.4,694.8 L261.6,694.4 L262.8,693.9 L264.0,693.3 L265.2,692.7 L266.4,692.0 L267.5,691.3 L268.4,690.8 M276.2,683.5 L277.0,682.4 L277.8,681.2 L278.5,680.1 L279.2,679.1 L279.9,677.9 L280.6,676.8 L281.2,675.8 L281.8,674.8 L282.4,673.7 L282.8,672.9 M289.3,659.1 L289.7,658.0 L290.1,657.0 L290.5,656.0 L290.8,655.0 L291.2,654.0 L291.6,653.0 L291.9,651.9 L292.3,650.9 L292.6,649.8 L293.0,648.8 M296.6,635.9 L296.9,634.9 L297.1,633.8 L297.3,632.8 L297.5,631.8 L297.7,630.8 L297.9,629.8 L298.1,628.8 L298.3,627.8 L298.5,626.8 L298.7,625.8 L298.8,625.3 M300.7,612.9 L300.8,612.5 L301.0,613.5 L301.2,614.5 L301.5,615.6 L301.7,616.6 L301.9,617.6 L302.1,618.6 L302.2,619.7 L302.4,620.7 L302.6,621.7 M305.2,635.5 L305.5,636.5 L305.8,637.6 L306.2,638.6 L306.6,639.7 L306.9,640.7 L307.3,641.8 L307.8,642.8 L308.2,643.9 L308.6,644.9 L309.0,646.0 M314.7,659.3 L315.2,660.4 L315.8,661.4 L316.3,662.4 L316.9,663.4 L317.5,664.5 L318.1,665.6 L318.8,666.7 L319.5,667.8 L320.2,668.8 L321.0,670.0 M331.1,679.5 L332.4,680.1 L333.6,680.5 L334.8,680.7 L335.5,679.7 L336.2,678.5 L337.0,677.4 L337.9,676.2 L339.0,675.1 L339.9,674.3 M349.1,668.5 L350.3,667.7 L351.5,666.9 L352.7,666.1 L353.9,665.2 L355.0,664.3 L356.2,663.4 L357.4,662.4 L358.6,661.2 L359.3,660.4 M365.9,650.9 L366.6,649.8 L367.3,648.8 L367.8,647.7 L368.4,646.6 L369.0,645.5 L369.6,644.4 L370.2,643.3 L370.8,642.3 L371.4,641.2 L371.9,640.4 M381.8,628.4 L383.0,627.7 L384.2,627.0 L385.4,626.3 L386.6,625.7 L387.8,625.0 L389.0,624.3 L390.2,623.5 L391.4,622.6 L392.3,621.9 M401.0,613.9 L402.0,612.8 L402.9,611.7 L403.7,610.6 L404.5,609.6 L405.3,608.5 L406.1,607.3 L406.8,606.3 L407.5,605.3 L408.1,604.2 L408.6,603.4 M415.3,591.6 L415.8,590.6 L416.3,589.6 L416.8,588.6 L417.4,587.5 L417.9,586.5 L418.4,585.4 L419.0,584.3 L419.5,583.2 L420.0,582.2 L420.3,581.4 M426.2,567.6 L426.6,566.6 L427.1,565.5 L427.5,564.5 L427.9,563.4 L428.4,562.4 L428.8,561.3 L429.2,560.3 L429.7,559.2 L430.1,558.1 L430.5,557.1 M435.4,544.6 L435.8,543.6 L436.3,542.6 L436.8,541.5 L437.2,540.4 L437.7,539.4 L438.2,538.3 L438.7,537.3 L439.1,536.3 L439.6,535.2 L440.1,534.2 M446.8,520.5 L447.4,519.5 L448.0,518.5 L448.6,517.4 L449.3,516.4 L450.0,515.4 L450.7,514.3 L451.5,513.2 L452.3,512.1 L453.2,511.0 L453.9,510.1 M465.5,502.0 L466.7,501.9 L467.9,501.9 L469.1,502.1 L470.3,502.4 L471.5,502.8 L472.7,503.4 L473.9,504.0 L475.0,504.8 L475.9,505.5 M487.7,516.8 L488.7,517.9 L489.6,519.0 L490.6,520.0 L491.5,521.1 L492.5,522.2 L493.5,523.2 L494.4,524.3 L495.4,525.3 L496.3,526.4 L497.0,527.2 M508.4,538.9 L509.6,539.9 L510.8,541.0 L512.0,541.9 L513.2,542.8 L514.4,543.7 L515.5,544.5 L516.7,545.3 L517.9,546.0 L518.8,546.6 M532.2,550.9 L533.4,550.8 L534.6,550.6 L535.8,550.3 L537.0,549.9 L538.2,549.5 L539.4,549.0 L540.6,548.6 L541.8,548.0 L542.6,547.6 M554.2,537.1 L555.0,536.1 L555.7,535.0 L556.5,534.0 L557.3,532.9 L558.1,531.8 L558.9,530.7 L559.7,529.6 L560.5,528.5 L561.3,527.4 L561.9,526.6 M571.5,515.9 L572.7,515.4 L573.9,515.0 L575.1,514.8 L576.3,514.8 L577.5,514.9 L578.7,515.2 L579.9,515.6 L581.1,516.2 L582.0,516.9 M592.8,529.1 L593.7,530.3 L594.7,531.5 L595.6,532.7 L596.6,533.8 L597.6,535.0 L598.5,536.1 L599.5,537.2 L600.7,538.4 L601.9,539.5 M615.6,551.1 L616.8,552.0 L618.0,552.8 L619.2,553.6 L620.4,554.4 L621.6,555.1 L622.7,555.8 L623.9,556.5 L625.1,557.2 L626.0,557.7 M639.1,565.0 L640.3,565.8 L641.5,566.6 L642.7,567.4 L643.9,568.2 L645.1,569.0 L646.3,569.9 L647.5,570.8 L648.7,571.8 L649.5,572.5 M661.9,584.7 L662.8,585.7 L663.8,586.8 L664.7,587.8 L665.7,588.9 L666.6,589.9 L667.6,591.0 L668.5,592.0 L669.5,593.1 L670.5,594.1 L671.4,595.2 M681.8,607.9 L682.6,609.0 L683.4,610.0 L684.2,611.0 L685.0,612.0 L685.9,613.2 L686.9,614.4 L687.8,615.5 L688.8,616.7 L689.7,617.8 L690.2,618.4 M701.2,631.4 L702.1,632.4 L703.1,633.5 L704.0,634.6 L705.0,635.6 L705.9,636.6 L706.9,637.6 L707.9,638.7 L709.1,639.9 L710.3,641.1 L710.9,641.7 M724.3,653.7 L725.5,654.7 L726.7,655.7 L727.9,656.7 L729.1,657.6 L730.2,658.5 L731.4,659.4 L732.6,660.2 L733.8,661.0 L734.7,661.6 M747.8,669.0 L749.0,669.5 L750.2,670.1 L751.4,670.7 L752.6,671.2 L753.8,671.7 L755.0,672.2 L756.2,672.7 L757.3,673.2 L758.2,673.6 M771.0,677.6 L772.2,677.9 L773.4,678.3 L774.6,678.6 L775.8,678.9 L777.0,679.2 L778.2,679.5 L779.4,679.8 L780.6,680.1 L781.5,680.3 M794.9,683.5 L796.1,683.8 L797.2,684.1 L798.4,684.4 L799.6,684.7 L800.8,685.0 L802.0,685.3 L803.2,685.6 L804.4,685.9 L805.3,686.1 M817.8,689.7 L819.0,690.0 L820.2,690.3 L821.4,690.6 L822.6,690.9 L823.7,691.1 L824.9,691.4 L826.1,691.6 L827.3,691.8 L828.2,692.0 M840.7,693.7 L841.9,693.8 L843.1,694.0 L844.3,694.1 L845.5,694.2 L846.7,694.4 L847.9,694.5 L849.1,694.7 L850.3,694.8 L851.1,694.9 M863.7,696.3 L864.8,696.5 L866.0,696.6 L867.2,696.7 L868.4,696.8 L869.6,696.9 L870.8,697.1 L872.0,697.2 L873.2,697.3 L874.1,697.4 M886.9,698.4 L888.1,698.5 L889.3,698.5 L890.5,698.6 L891.6,698.7 L892.8,698.7 L894.0,698.8 L895.2,698.9 L896.4,698.9 L897.3,699.0 M909.8,699.7 L911.0,699.8 L912.2,699.9 L913.4,699.9 L914.6,700.0 L915.8,700.1 L917.0,700.1 L918.1,700.2 L919.3,700.3 L920.2,700.3 M932.7,700.7 L933.9,700.7 L935.1,700.8 L936.3,700.8 L937.5,700.8" fill="none" stroke="#000" stroke-width="2.80" stroke-linejoin="round" stroke-linecap="round"/>
</g>
<path d="M144.50,491.40 H937.60 V702.10 H144.50 Z M144.50,702.10 v7.30 M144.50,491.40 v7.30 M194.07,702.10 v4.20 M194.07,491.40 v3.90 M243.64,702.10 v7.30 M243.64,491.40 v7.30 M293.21,702.10 v4.20 M293.21,491.40 v3.90 M342.77,702.10 v7.30 M342.77,491.40 v7.30 M392.34,702.10 v4.20 M392.34,491.40 v3.90 M441.91,702.10 v7.30 M441.91,491.40 v7.30 M491.48,702.10 v4.20 M491.48,491.40 v3.90 M541.05,702.10 v7.30 M541.05,491.40 v7.30 M590.62,702.10 v4.20 M590.62,491.40 v3.90 M640.19,702.10 v7.30 M640.19,491.40 v7.30 M689.76,702.10 v4.20 M689.76,491.40 v3.90 M739.33,702.10 v7.30 M739.33,491.40 v7.30 M788.89,702.10 v4.20 M788.89,491.40 v3.90 M838.46,702.10 v7.30 M838.46,491.40 v7.30 M888.03,702.10 v4.20 M888.03,491.40 v3.90 M937.60,702.10 v7.30 M937.60,491.40 v7.30 M144.50,702.10 h-7.30 M937.60,702.10 h-7.30 M144.50,672.00 h-4.20 M937.60,672.00 h-4.20 M144.50,641.90 h-7.30 M937.60,641.90 h-7.30 M144.50,611.80 h-4.20 M937.60,611.80 h-4.20 M144.50,581.70 h-7.30 M937.60,581.70 h-7.30 M144.50,551.60 h-4.20 M937.60,551.60 h-4.20 M144.50,521.50 h-7.30 M937.60,521.50 h-7.30 M144.50,491.40 h-4.20 M937.60,491.40 h-4.20" fill="none" stroke="#000" stroke-width="1.50" stroke-linecap="butt"/>
<text transform="translate(118.01,708.70) scale(0.9500,1)" font-size="30.5" stroke="#000" stroke-width="0.25">0</text>
<text transform="translate(89.04,648.50) scale(0.9500,1)" font-size="30.5" stroke="#000" stroke-width="0.25">500</text>
<text transform="translate(74.55,588.30) scale(0.9500,1)" font-size="30.5" stroke="#000" stroke-width="0.25">1000</text>
<text transform="translate(74.55,528.10) scale(0.9500,1)" font-size="30.5" stroke="#000" stroke-width="0.25">1500</text>
<text transform="translate(144.50,735.30) scale(0.9500,1)" font-size="30.5" text-anchor="middle" stroke="#000" stroke-width="0.25">-250</text>
<text transform="translate(243.64,735.30) scale(0.9500,1)" font-size="30.5" text-anchor="middle" stroke="#000" stroke-width="0.25">-200</text>
<text transform="translate(342.77,735.30) scale(0.9500,1)" font-size="30.5" text-anchor="middle" stroke="#000" stroke-width="0.25">-150</text>
<text transform="translate(441.91,735.30) scale(0.9500,1)" font-size="30.5" text-anchor="middle" stroke="#000" stroke-width="0.25">-100</text>
<text transform="translate(541.05,735.30) scale(0.9500,1)" font-size="30.5" text-anchor="middle" stroke="#000" stroke-width="0.25">-50</text>
<text transform="translate(640.19,735.30) scale(0.9500,1)" font-size="30.5" text-anchor="middle" stroke="#000" stroke-width="0.25">0</text>
<text transform="translate(739.33,735.30) scale(0.9500,1)" font-size="30.5" text-anchor="middle" stroke="#000" stroke-width="0.25">50</text>
<text transform="translate(838.46,735.30) scale(0.9500,1)" font-size="30.5" text-anchor="middle" stroke="#000" stroke-width="0.25">100</text>
<text transform="translate(937.60,735.30) scale(0.9500,1)" font-size="30.5" text-anchor="middle" stroke="#000" stroke-width="0.25">150</text>
<path d="M667.8,279.4 H739.4" stroke="#ff0000" stroke-width="2.80" stroke-linecap="round"/>
<clipPath id="cl"><rect x="658.0" y="308.3" width="82.0" height="25.9"/></clipPath>
<path clip-path="url(#cl)" d="M617.40,334.20 l60,-60 M633.90,334.20 l60,-60 M650.40,334.20 l60,-60 M666.90,334.20 l60,-60 M683.40,334.20 l60,-60 M699.90,334.20 l60,-60 M716.40,334.20 l60,-60 M732.90,334.20 l60,-60 M749.40,334.20 l60,-60" stroke="#0000ff" stroke-width="1.5" fill="none"/>
<rect x="658.0" y="308.3" width="82.0" height="25.9" fill="none" stroke="#0000ff" stroke-width="1.7" stroke-dasharray="3.4 5"/>
<path d="M668.0,318.7 H741" stroke="#0000ff" stroke-width="2.7" stroke-dasharray="2.4 11.6" stroke-linecap="round" fill="none"/>
<path d="M667.8,358.0 H739.6" stroke="#000" stroke-width="2.80" stroke-dasharray="10.7 13" stroke-linecap="round"/>
<text transform="translate(746.30,289.20) scale(1.0362,1)" font-size="30.0" stroke="#000" stroke-width="0.25">majority</text>
<text transform="translate(861.70,289.20) scale(1.0880,1)" font-size="30.0" stroke="#000" stroke-width="0.25">spin</text>
<text transform="translate(746.30,328.70) scale(1.0602,1)" font-size="30.0" stroke="#000" stroke-width="0.25">minority</text>
<text transform="translate(865.70,328.70) scale(1.0880,1)" font-size="30.0" stroke="#000" stroke-width="0.25">spin</text>
<text transform="translate(747.20,368.50) scale(1.0286,1)" font-size="30.0" stroke="#000" stroke-width="0.25">total</text>
<text transform="translate(811.40,368.50) scale(1.0953,1)" font-size="30.0" stroke="#000" stroke-width="0.25">current</text>
<text transform="translate(150.60,74.00) scale(0.9225,1)" font-size="37.5" stroke="#000" stroke-width="0.35">(a)</text>
<text transform="translate(200.30,74.00) scale(1.0687,1)" font-size="37.5" stroke="#000" stroke-width="0.35">source</text>
<text transform="translate(152.40,302.70) scale(0.9349,1)" font-size="37.5" stroke="#000" stroke-width="0.35">(b)</text>
<text transform="translate(204.30,302.70) scale(1.0735,1)" font-size="37.5" stroke="#000" stroke-width="0.35">channel</text>
<text transform="translate(154.60,530.70) scale(0.8793,1)" font-size="37.5" stroke="#000" stroke-width="0.35">(c)</text>
<text transform="translate(202.80,530.70) scale(1.1247,1)" font-size="37.5" stroke="#000" stroke-width="0.35">drain</text>
<text transform="translate(637.10,528.50) scale(1.1217,1)" font-size="30.0" stroke="#000" stroke-width="0.25">Anti-parallel</text>
<text transform="translate(819.80,528.50) scale(1.0773,1)" font-size="30.0" stroke="#000" stroke-width="0.25">Config.</text>
<text transform="translate(702.40,116.00) scale(1.0617,1)" font-size="30.0" stroke="#000" stroke-width="0.25">Injection</text>
<text transform="translate(824.60,116.00) scale(0.9963,1)" font-size="30.0" stroke="#000" stroke-width="0.25">P=74%</text>
<text transform="translate(704.90,68.60) scale(0.9609,1)" font-size="25.0" stroke="#000" stroke-width="0.25">@</text>
<text transform="translate(736.40,70.00) scale(1.0220,1)" font-size="30.0" stroke="#000" stroke-width="0.25">V</text>
<text transform="translate(772.10,70.00) scale(0.9363,1)" font-size="30.0" stroke="#000" stroke-width="0.25">=</text>
<text transform="translate(787.90,70.00) scale(1.0220,1)" font-size="30.0" stroke="#000" stroke-width="0.25">V</text>
<text transform="translate(828.40,70.00) scale(1.0128,1)" font-size="30.0" stroke="#000" stroke-width="0.25">=0.6V</text>
<text transform="translate(757.20,78.40) scale(1.0588,1)" font-size="25.5" stroke="#000" stroke-width="0.25">g</text>
<text transform="translate(811.60,78.40) scale(1.1922,1)" font-size="25.5" stroke="#000" stroke-width="0.25">d</text>
<text transform="translate(425.50,778.00) scale(1.0416,1)" font-size="38.5" stroke="#000" stroke-width="0.35">Energy</text>
<text transform="translate(555.40,778.00) scale(0.9920,1)" font-size="38.5" stroke="#000" stroke-width="0.35">(meV)</text>
<text transform="translate(54.50,753.70) rotate(-90) scale(1.0320,1)" font-size="39.5" stroke="#000" stroke-width="0.00">Energy</text>
<text transform="translate(54.50,625.20) rotate(-90) scale(1.0106,1)" font-size="39.5" stroke="#000" stroke-width="0.00">Resolve</text>
<text transform="translate(54.50,488.20) rotate(-90) scale(1.1009,1)" font-size="39.5" stroke="#000" stroke-width="0.00">Current</text>
<text transform="translate(54.50,348.20) rotate(-90) scale(1.0767,1)" font-size="39.5" stroke="#000" stroke-width="0.00">Density</text>
<text transform="translate(54.50,209.50) rotate(-90) scale(1.0694,1)" font-size="39.5" stroke="#000" stroke-width="0.00">(arb.</text>
<text transform="translate(54.50,121.90) rotate(-90) scale(1.0586,1)" font-size="39.5" stroke="#000" stroke-width="0.00">unit)</text>
</svg>
</body></html>
